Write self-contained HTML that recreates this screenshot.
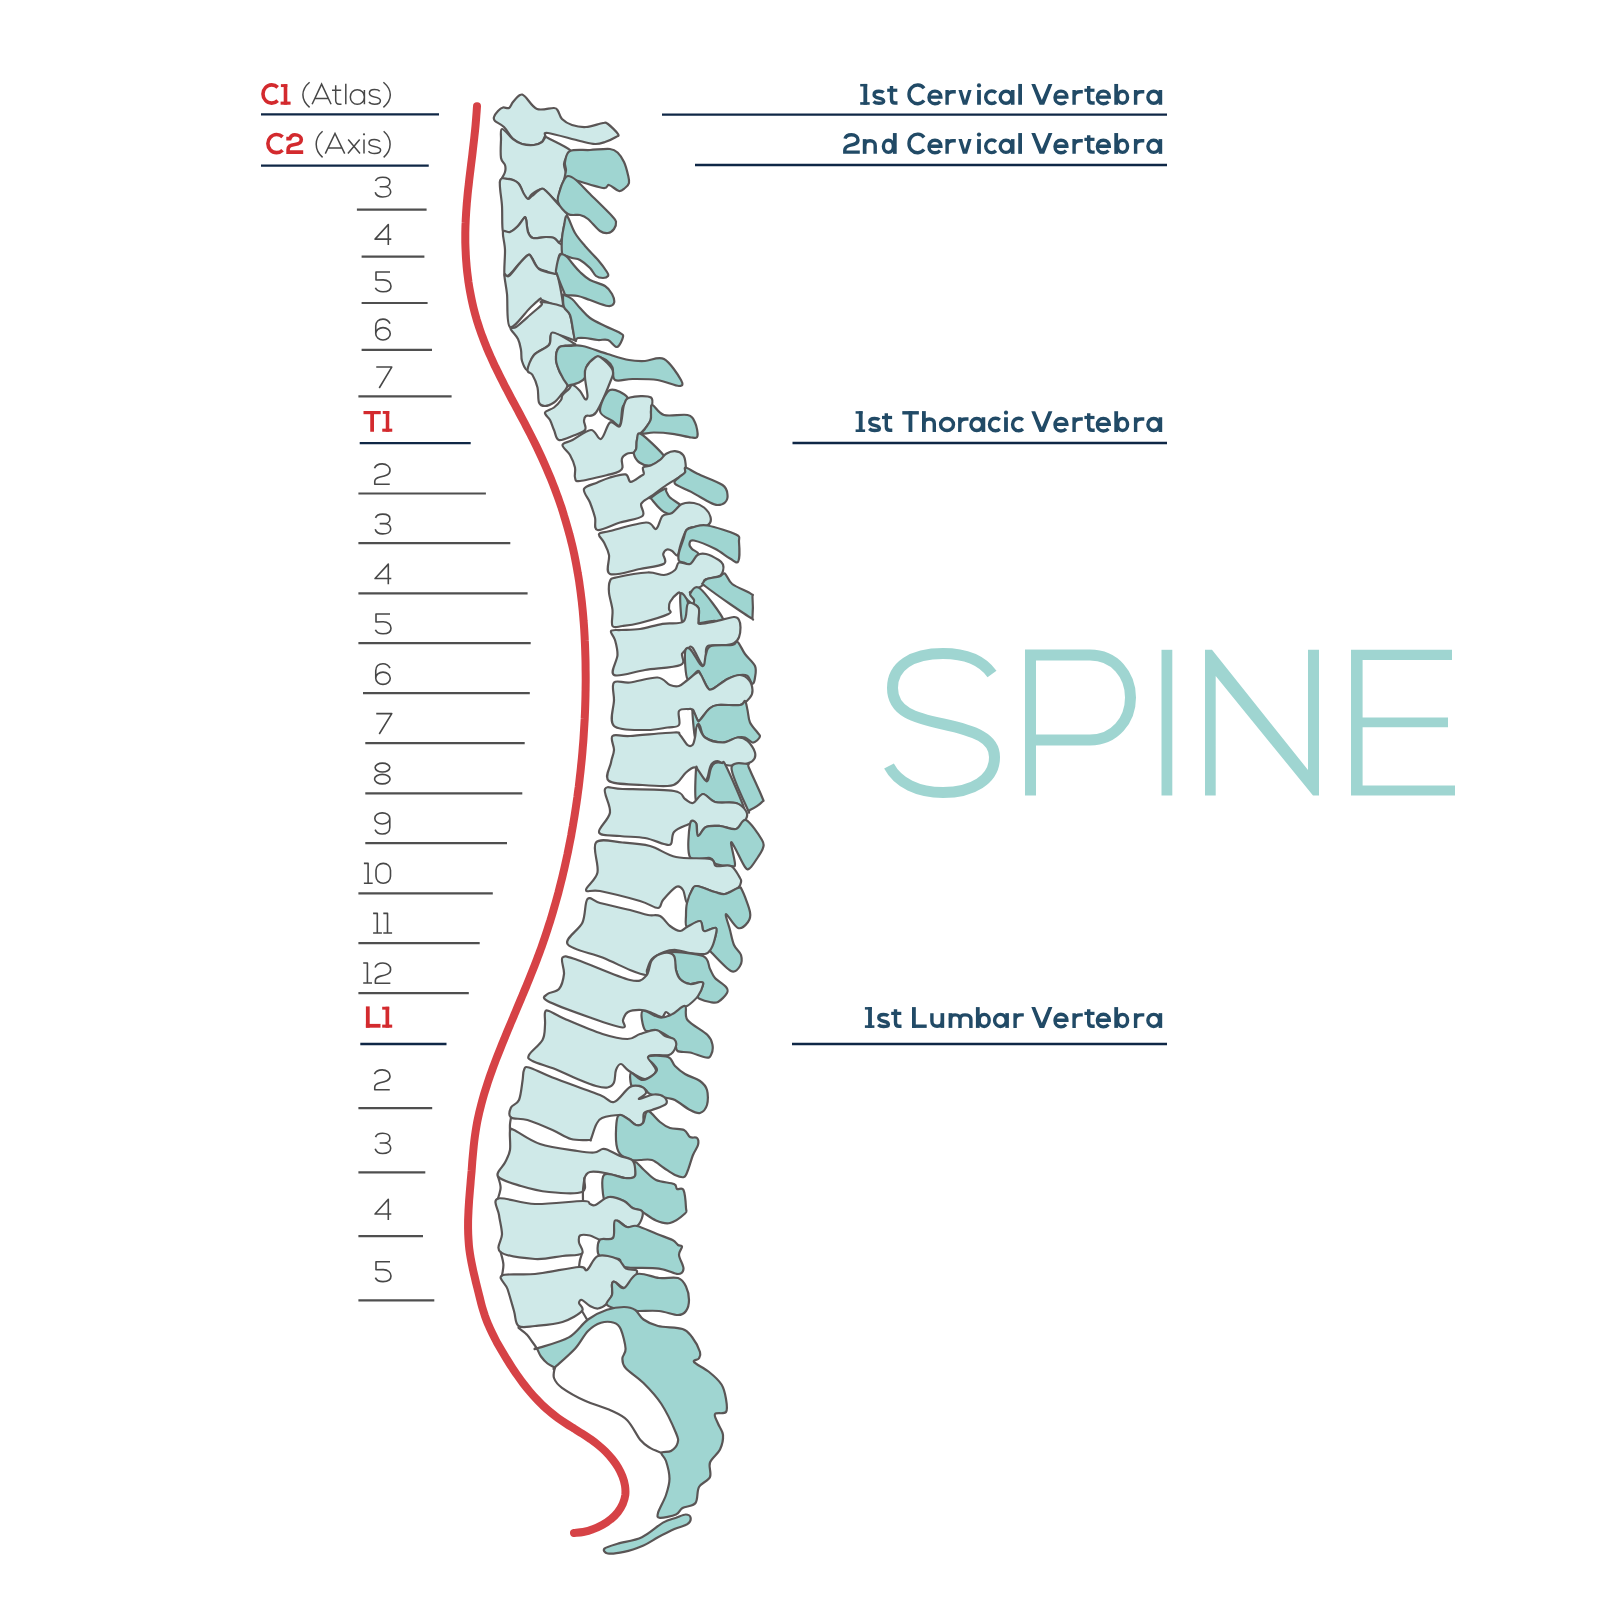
<!DOCTYPE html>
<html><head><meta charset="utf-8"><style>
html,body{margin:0;padding:0;background:#fff;width:1600px;height:1600px;overflow:hidden}
svg{display:block;font-family:"Liberation Sans",sans-serif}
</style></head><body>
<svg width="1600" height="1600" viewBox="0 0 1600 1600">
<path d="M 494.0 117.0 C 494.5 115.3 496.5 112.6 498.0 111.0 C 499.5 109.4 501.2 108.0 503.0 107.5 C 504.8 107.0 507.3 108.9 509.0 108.0 C 510.7 107.1 511.2 104.2 513.0 102.0 C 514.8 99.8 518.0 95.9 520.0 95.0 C 522.0 94.1 522.2 94.2 525.0 96.5 C 527.8 98.8 532.2 107.1 537.0 109.0 C 541.8 110.9 550.5 107.7 554.0 108.0 C 557.5 108.3 556.7 109.2 558.0 111.0 C 559.3 112.8 559.7 116.7 562.0 119.0 C 564.3 121.3 568.0 123.7 572.0 125.0 C 576.0 126.3 580.8 127.3 586.0 127.0 C 591.2 126.7 599.3 123.5 603.0 123.0 C 606.7 122.5 605.5 122.2 608.0 124.0 C 610.5 125.8 616.7 131.8 618.0 134.0 C 619.3 136.2 618.2 135.7 616.0 137.0 C 613.8 138.3 608.5 140.8 605.0 142.0 C 601.5 143.2 599.2 144.2 595.0 144.0 C 590.8 143.8 587.8 142.8 580.0 141.0 C 572.2 139.2 553.8 133.8 548.0 133.0 C 542.2 132.2 546.0 134.5 545.0 136.0 C 544.0 137.5 543.8 140.5 542.0 142.0 C 540.2 143.5 537.3 144.7 534.0 145.0 C 530.7 145.3 525.5 145.0 522.0 144.0 C 518.5 143.0 516.0 141.8 513.0 139.0 C 510.0 136.2 507.0 130.0 504.0 127.0 C 501.0 124.0 496.7 122.7 495.0 121.0 C 493.3 119.3 493.5 118.7 494.0 117.0 Z" fill="#cfe9e8" stroke="#5a5555" stroke-width="2.2" stroke-linejoin="round"/>
<path d="M 502.0 129.0 C 504.0 128.8 509.7 136.5 513.0 139.0 C 516.3 141.5 518.5 143.0 522.0 144.0 C 525.5 145.0 530.7 145.3 534.0 145.0 C 537.3 144.7 540.1 143.3 542.0 142.0 C 543.9 140.7 544.5 137.7 545.5 137.0 C 546.5 136.3 543.9 135.8 548.0 138.0 C 552.1 140.2 566.8 147.0 570.0 150.0 C 573.2 153.0 568.0 153.7 567.0 156.0 C 566.0 158.3 564.2 161.0 564.0 164.0 C 563.8 167.0 566.0 171.3 566.0 174.0 C 566.0 176.7 565.0 177.3 564.0 180.0 C 563.0 182.7 561.0 186.3 560.0 190.0 C 559.0 193.7 560.3 201.8 558.0 202.0 C 555.7 202.2 548.8 193.2 546.0 191.0 C 543.2 188.8 543.3 188.5 541.0 189.0 C 538.7 189.5 534.2 192.3 532.0 194.0 C 529.8 195.7 529.3 198.8 528.0 199.0 C 526.7 199.2 525.5 197.5 524.0 195.0 C 522.5 192.5 521.3 186.7 519.0 184.0 C 516.7 181.3 512.7 179.5 510.0 179.0 C 507.3 178.5 504.7 180.5 503.0 181.0 C 501.3 181.5 499.7 183.5 500.0 182.0 C 500.3 180.5 504.2 174.8 505.0 172.0 C 505.8 169.2 505.7 167.3 505.0 165.0 C 504.3 162.7 501.7 162.2 501.0 158.0 C 500.3 153.8 500.8 144.8 501.0 140.0 C 501.2 135.2 500.0 129.2 502.0 129.0 Z" fill="#cfe9e8" stroke="#5a5555" stroke-width="2.2" stroke-linejoin="round"/>
<path d="M 570.0 151.0 C 574.2 149.0 583.3 150.3 590.0 150.0 C 596.7 149.7 605.3 148.5 610.0 149.0 C 614.7 149.5 615.7 150.8 618.0 153.0 C 620.3 155.2 622.3 158.3 624.0 162.0 C 625.7 165.7 627.2 171.5 628.0 175.0 C 628.8 178.5 629.5 180.8 629.0 183.0 C 628.5 185.2 626.7 186.7 625.0 188.0 C 623.3 189.3 621.7 191.5 619.0 191.0 C 616.3 190.5 611.7 185.5 609.0 185.0 C 606.3 184.5 608.7 188.8 603.0 188.0 C 597.3 187.2 580.8 181.8 575.0 180.0 C 569.2 178.2 569.8 177.2 568.0 177.0 C 566.2 176.8 564.8 180.2 564.5 179.0 C 564.2 177.8 565.9 172.8 566.0 170.0 C 566.1 167.2 564.3 165.2 565.0 162.0 C 565.7 158.8 565.8 153.0 570.0 151.0 Z" fill="#9fd5d1" stroke="#5a5555" stroke-width="2.2" stroke-linejoin="round"/>
<path d="M 500.0 181.0 C 501.0 176.5 505.0 178.7 508.0 179.0 C 511.0 179.3 515.3 180.5 518.0 183.0 C 520.7 185.5 522.3 191.3 524.0 194.0 C 525.7 196.7 526.7 198.7 528.0 199.0 C 529.3 199.3 529.8 197.7 532.0 196.0 C 534.2 194.3 538.7 189.8 541.0 189.0 C 543.3 188.2 543.2 188.5 546.0 191.0 C 548.8 193.5 554.5 200.2 558.0 204.0 C 561.5 207.8 566.0 210.3 567.0 214.0 C 568.0 217.7 564.8 222.0 564.0 226.0 C 563.2 230.0 562.8 235.3 562.0 238.0 C 561.2 240.7 560.3 242.0 559.0 242.0 C 557.7 242.0 556.2 238.8 554.0 238.0 C 551.8 237.2 549.5 237.0 546.0 237.0 C 542.5 237.0 536.0 238.8 533.0 238.0 C 530.0 237.2 529.2 235.2 528.0 232.0 C 526.8 228.8 526.7 221.3 526.0 219.0 C 525.3 216.7 525.3 216.8 524.0 218.0 C 522.7 219.2 520.3 223.7 518.0 226.0 C 515.7 228.3 512.5 231.0 510.0 232.0 C 507.5 233.0 504.3 236.3 503.0 232.0 C 501.7 227.7 502.5 214.5 502.0 206.0 C 501.5 197.5 499.0 185.5 500.0 181.0 Z" fill="#cfe9e8" stroke="#5a5555" stroke-width="2.2" stroke-linejoin="round"/>
<path d="M 568.0 176.0 C 570.0 176.0 572.3 177.0 576.0 180.0 C 579.7 183.0 584.0 188.0 590.0 194.0 C 596.0 200.0 607.7 211.3 612.0 216.0 C 616.3 220.7 615.7 219.8 616.0 222.0 C 616.3 224.2 615.3 227.2 614.0 229.0 C 612.7 230.8 610.3 232.7 608.0 233.0 C 605.7 233.3 603.3 233.3 600.0 231.0 C 596.7 228.7 591.3 221.7 588.0 219.0 C 584.7 216.3 583.3 215.8 580.0 215.0 C 576.7 214.2 571.7 216.2 568.0 214.0 C 564.3 211.8 559.3 206.0 558.0 202.0 C 556.7 198.0 559.0 193.7 560.0 190.0 C 561.0 186.3 562.7 182.3 564.0 180.0 C 565.3 177.7 566.0 176.0 568.0 176.0 Z" fill="#9fd5d1" stroke="#5a5555" stroke-width="2.2" stroke-linejoin="round"/>
<path d="M 503.0 232.0 C 503.8 229.0 507.5 233.0 510.0 232.0 C 512.5 231.0 515.7 228.3 518.0 226.0 C 520.3 223.7 522.7 219.2 524.0 218.0 C 525.3 216.8 525.3 216.7 526.0 219.0 C 526.7 221.3 526.8 228.8 528.0 232.0 C 529.2 235.2 530.0 237.2 533.0 238.0 C 536.0 238.8 542.5 237.0 546.0 237.0 C 549.5 237.0 551.8 237.0 554.0 238.0 C 556.2 239.0 557.5 241.7 559.0 243.0 C 560.5 244.3 562.5 244.3 563.0 246.0 C 563.5 247.7 562.7 251.3 562.0 253.0 C 561.3 254.7 560.0 252.4 559.0 256.0 C 558.0 259.6 558.2 272.0 556.0 274.5 C 553.8 277.0 549.0 272.1 546.0 271.0 C 543.0 269.9 540.3 270.2 538.0 268.0 C 535.7 265.8 533.7 260.2 532.0 258.0 C 530.3 255.8 530.3 253.8 528.0 255.0 C 525.7 256.2 521.0 261.8 518.0 265.0 C 515.0 268.2 512.2 272.3 510.0 274.0 C 507.8 275.7 505.3 279.0 504.5 275.0 C 503.7 271.0 505.2 257.2 505.0 250.0 C 504.8 242.8 502.2 235.0 503.0 232.0 Z" fill="#cfe9e8" stroke="#5a5555" stroke-width="2.2" stroke-linejoin="round"/>
<path d="M 567.0 216.0 C 568.8 217.2 572.0 228.0 575.0 233.0 C 578.0 238.0 581.2 241.5 585.0 246.0 C 588.8 250.5 594.3 255.7 598.0 260.0 C 601.7 264.3 605.3 269.3 607.0 272.0 C 608.7 274.7 608.7 275.0 608.0 276.0 C 607.3 277.0 605.0 278.0 603.0 278.0 C 601.0 278.0 598.2 277.7 596.0 276.0 C 593.8 274.3 592.7 270.7 590.0 268.0 C 587.3 265.3 583.0 261.7 580.0 260.0 C 577.0 258.3 574.7 258.8 572.0 258.0 C 569.3 257.2 565.7 255.8 564.0 255.0 C 562.3 254.2 562.3 255.8 562.0 253.0 C 561.7 250.2 561.7 242.5 562.0 238.0 C 562.3 233.5 563.2 229.7 564.0 226.0 C 564.8 222.3 565.2 214.8 567.0 216.0 Z" fill="#9fd5d1" stroke="#5a5555" stroke-width="2.2" stroke-linejoin="round"/>
<path d="M 504.5 275.0 C 504.8 272.0 506.4 278.0 509.0 276.0 C 511.6 274.0 516.8 266.5 520.0 263.0 C 523.2 259.5 526.2 256.1 528.0 255.0 C 529.8 253.9 529.2 254.2 531.0 256.5 C 532.8 258.8 534.8 266.1 539.0 269.0 C 543.2 271.9 553.0 273.2 556.0 274.0 C 559.0 274.8 556.3 272.0 557.0 274.0 C 557.7 276.0 559.0 280.7 560.0 286.0 C 561.0 291.3 563.3 302.7 563.0 306.0 C 562.7 309.3 561.5 307.0 558.0 306.0 C 554.5 305.0 545.0 301.2 542.0 300.0 C 539.0 298.8 542.0 297.7 540.0 299.0 C 538.0 300.3 535.0 303.3 530.0 308.0 C 525.0 312.7 513.8 329.3 510.0 327.0 C 506.2 324.7 507.9 302.7 507.0 294.0 C 506.1 285.3 504.2 278.0 504.5 275.0 Z" fill="#cfe9e8" stroke="#5a5555" stroke-width="2.2" stroke-linejoin="round"/>
<path d="M 560.0 255.0 C 561.7 252.7 564.0 254.7 566.0 256.0 C 568.0 257.3 569.7 260.3 572.0 263.0 C 574.3 265.7 577.0 269.2 580.0 272.0 C 583.0 274.8 585.8 277.7 590.0 280.0 C 594.2 282.3 601.3 283.7 605.0 286.0 C 608.7 288.3 610.5 291.2 612.0 294.0 C 613.5 296.8 614.7 301.0 614.0 303.0 C 613.3 305.0 612.0 306.5 608.0 306.0 C 604.0 305.5 595.0 301.7 590.0 300.0 C 585.0 298.3 582.0 296.8 578.0 296.0 C 574.0 295.2 568.3 295.7 566.0 295.0 C 563.7 294.3 564.8 293.7 564.0 292.0 C 563.2 290.3 562.2 288.0 561.0 285.0 C 559.8 282.0 557.8 276.5 557.0 274.0 C 556.2 271.5 555.5 273.2 556.0 270.0 C 556.5 266.8 558.3 257.3 560.0 255.0 Z" fill="#9fd5d1" stroke="#5a5555" stroke-width="2.2" stroke-linejoin="round"/>
<path d="M 510.5 328.5 C 510.8 330.5 516.2 335.4 518.0 339.0 C 519.8 342.6 520.3 346.3 521.0 350.0 C 521.7 353.7 520.9 357.7 522.0 361.0 C 523.1 364.3 525.5 371.0 527.5 370.0 C 529.5 369.0 530.4 359.2 534.0 355.0 C 537.6 350.8 545.9 348.5 549.0 345.0 C 552.1 341.5 548.3 334.8 552.5 334.0 C 556.7 333.2 570.2 339.0 574.0 340.0 C 577.8 341.0 575.2 341.7 575.0 340.0 C 574.8 338.3 573.8 334.2 573.0 330.0 C 572.2 325.8 571.5 318.8 570.0 315.0 C 568.5 311.2 568.7 309.2 564.0 307.0 C 559.3 304.8 545.8 302.3 542.0 302.0 C 538.2 301.7 543.5 302.8 541.5 305.0 C 539.5 307.2 534.2 311.3 530.0 315.0 C 525.8 318.7 519.2 324.8 516.0 327.0 C 512.8 329.2 510.2 326.5 510.5 328.5 Z" fill="#cfe9e8" stroke="#5a5555" stroke-width="2.2" stroke-linejoin="round"/>
<path d="M 564.0 295.0 C 565.5 295.5 569.3 296.8 572.0 299.0 C 574.7 301.2 577.0 304.8 580.0 308.0 C 583.0 311.2 585.8 315.0 590.0 318.0 C 594.2 321.0 600.0 323.5 605.0 326.0 C 610.0 328.5 617.0 331.2 620.0 333.0 C 623.0 334.8 623.5 334.7 623.0 337.0 C 622.5 339.3 619.5 346.5 617.0 347.0 C 614.5 347.5 611.2 341.2 608.0 340.0 C 604.8 338.8 601.8 340.3 598.0 340.0 C 594.2 339.7 588.3 338.3 585.0 338.0 C 581.7 337.7 579.7 337.7 578.0 338.0 C 576.3 338.3 575.8 341.3 575.0 340.0 C 574.2 338.7 573.8 334.2 573.0 330.0 C 572.2 325.8 571.5 318.8 570.0 315.0 C 568.5 311.2 565.2 310.2 564.0 307.0 C 562.8 303.8 563.0 298.0 563.0 296.0 C 563.0 294.0 562.5 294.5 564.0 295.0 Z" fill="#9fd5d1" stroke="#5a5555" stroke-width="2.2" stroke-linejoin="round"/>
<path d="M 552.5 332.5 C 556.4 332.1 568.9 340.4 572.5 342.5 C 576.1 344.6 576.2 344.2 574.0 345.0 C 571.8 345.8 562.0 345.0 559.0 347.5 C 556.0 350.0 555.8 355.8 556.0 360.0 C 556.2 364.2 558.1 368.3 560.0 372.5 C 561.9 376.7 567.3 381.2 567.5 385.0 C 567.7 388.8 563.2 392.1 561.0 395.0 C 558.8 397.9 556.7 400.7 554.0 402.5 C 551.3 404.3 547.5 406.0 545.0 406.0 C 542.5 406.0 540.2 405.6 539.0 402.5 C 537.8 399.4 538.6 392.1 537.5 387.5 C 536.4 382.9 534.2 377.9 532.5 375.0 C 530.8 372.1 527.2 373.3 527.5 370.0 C 527.8 366.7 530.4 359.2 534.0 355.0 C 537.6 350.8 545.9 348.8 549.0 345.0 C 552.1 341.2 548.6 332.9 552.5 332.5 Z" fill="#cfe9e8" stroke="#5a5555" stroke-width="2.2" stroke-linejoin="round"/>
<path d="M 559.0 347.5 C 561.3 345.2 566.1 346.2 570.0 346.0 C 573.9 345.8 576.2 344.7 582.5 346.0 C 588.8 347.3 599.8 351.7 607.5 354.0 C 615.2 356.3 622.8 358.8 629.0 360.0 C 635.2 361.2 639.2 361.2 645.0 361.0 C 650.8 360.8 658.0 355.8 664.0 359.0 C 670.0 362.2 678.5 375.5 681.0 380.0 C 683.5 384.5 682.9 386.0 679.0 386.0 C 675.1 386.0 665.2 381.2 657.5 380.0 C 649.8 378.8 639.6 379.0 632.5 379.0 C 625.4 379.0 618.3 381.9 615.0 380.0 C 611.7 378.1 614.0 370.8 612.5 367.5 C 611.0 364.2 608.5 361.7 606.0 360.0 C 603.5 358.3 600.6 356.7 597.5 357.5 C 594.4 358.3 589.6 361.7 587.5 365.0 C 585.4 368.3 586.4 374.6 585.0 377.5 C 583.6 380.4 581.5 381.2 579.0 382.5 C 576.5 383.8 571.9 384.6 570.0 385.0 C 568.1 385.4 569.2 387.1 567.5 385.0 C 565.8 382.9 561.9 376.7 560.0 372.5 C 558.1 368.3 556.2 364.2 556.0 360.0 C 555.8 355.8 556.7 349.8 559.0 347.5 Z" fill="#9fd5d1" stroke="#5a5555" stroke-width="2.2" stroke-linejoin="round"/>
<path d="M 545.0 412.5 C 544.3 414.6 548.5 417.1 550.0 420.0 C 551.5 422.9 552.5 426.7 554.0 430.0 C 555.5 433.3 555.7 439.0 558.8 440.0 C 561.8 441.0 568.1 437.7 572.5 436.0 C 576.9 434.3 583.1 432.5 585.0 430.0 C 586.9 427.5 583.8 423.3 584.0 421.0 C 584.2 418.7 584.0 417.4 586.0 416.0 C 588.0 414.6 592.0 418.1 596.0 412.5 C 600.0 406.9 607.2 389.6 610.0 382.5 C 612.8 375.4 614.0 374.2 612.5 370.0 C 611.0 365.8 603.9 359.6 601.0 357.5 C 598.1 355.4 597.5 355.8 595.0 357.5 C 592.5 359.2 587.7 364.2 586.0 367.5 C 584.3 370.8 584.8 372.8 585.0 377.5 C 585.2 382.2 587.5 392.4 587.5 396.0 C 587.5 399.6 586.2 399.8 585.0 399.0 C 583.8 398.2 582.1 393.3 580.0 391.0 C 577.9 388.7 574.3 385.3 572.5 385.0 C 570.7 384.7 570.7 387.3 569.0 389.0 C 567.3 390.7 563.8 393.2 562.5 395.0 C 561.2 396.8 562.4 397.9 561.0 400.0 C 559.6 402.1 556.7 405.4 554.0 407.5 C 551.3 409.6 545.7 410.4 545.0 412.5 Z" fill="#cfe9e8" stroke="#5a5555" stroke-width="2.2" stroke-linejoin="round"/>
<path d="M 600.0 411.0 C 599.6 405.8 605.4 392.2 610.0 390.0 C 614.6 387.8 625.4 394.6 627.5 397.5 C 629.6 400.4 623.8 402.9 622.5 407.5 C 621.2 412.1 621.7 422.8 620.0 425.0 C 618.3 427.2 615.8 423.3 612.5 421.0 C 609.2 418.7 600.4 416.2 600.0 411.0 Z" fill="#9fd5d1" stroke="#5a5555" stroke-width="2.2" stroke-linejoin="round"/>
<path d="M 562.5 445.0 C 562.9 442.5 567.8 442.5 572.5 440.0 C 577.2 437.5 586.2 430.2 591.0 430.0 C 595.8 429.8 597.8 440.2 601.0 439.0 C 604.2 437.8 606.8 424.7 610.0 422.5 C 613.2 420.3 617.7 428.9 620.0 426.0 C 622.3 423.1 622.3 409.8 624.0 405.0 C 625.7 400.2 625.5 398.8 630.0 397.5 C 634.5 396.2 647.5 395.2 651.0 397.5 C 654.5 399.8 651.1 407.2 651.0 411.0 C 650.9 414.8 651.6 417.0 650.6 420.0 C 649.6 423.0 646.9 426.4 645.0 428.8 C 643.1 431.1 640.8 432.5 639.4 434.4 C 638.0 436.3 637.4 437.6 636.9 440.0 C 636.4 442.4 636.8 446.7 636.2 448.8 C 635.7 450.8 635.3 451.7 633.8 452.5 C 632.2 453.3 628.9 452.7 626.9 453.8 C 624.9 454.8 622.6 456.5 621.9 458.8 C 621.2 461.0 622.9 465.4 622.5 467.5 C 622.1 469.6 621.5 470.1 619.4 471.2 C 617.3 472.4 616.6 472.8 610.0 474.4 C 603.4 476.0 585.8 480.5 580.0 481.0 C 574.2 481.5 575.8 479.8 575.0 477.5 C 574.2 475.2 575.8 471.2 575.0 467.5 C 574.2 463.8 572.1 458.8 570.0 455.0 C 567.9 451.2 562.1 447.5 562.5 445.0 Z" fill="#cfe9e8" stroke="#5a5555" stroke-width="2.2" stroke-linejoin="round"/>
<path d="M 652.5 405.0 C 654.7 405.7 658.2 413.3 664.0 415.0 C 669.8 416.7 682.3 413.8 687.5 415.0 C 692.7 416.2 693.3 419.0 695.0 422.5 C 696.7 426.0 698.1 433.5 697.5 436.0 C 696.9 438.5 695.4 437.9 691.2 437.5 C 687.1 437.1 678.8 434.6 672.5 433.8 C 666.2 432.9 658.9 432.5 653.8 432.5 C 648.6 432.5 643.4 434.4 641.9 433.8 C 640.4 433.1 643.5 431.0 645.0 428.8 C 646.5 426.5 649.6 423.0 650.6 420.0 C 651.6 417.0 650.7 413.5 651.0 411.0 C 651.3 408.5 650.3 404.3 652.5 405.0 Z" fill="#9fd5d1" stroke="#5a5555" stroke-width="2.2" stroke-linejoin="round"/>
<path d="M 641.0 434.0 C 645.5 436.6 660.6 451.3 663.8 455.6 C 666.9 459.9 662.2 458.3 660.0 460.0 C 657.8 461.7 654.0 465.2 650.6 465.6 C 647.2 466.0 642.2 464.5 639.4 462.5 C 636.6 460.5 634.3 456.0 633.8 453.8 C 633.2 451.5 635.7 451.0 636.2 448.8 C 636.8 446.5 636.1 442.5 636.9 440.0 C 637.7 437.5 636.5 431.4 641.0 434.0 Z" fill="#9fd5d1" stroke="#5a5555" stroke-width="2.2" stroke-linejoin="round"/>
<path d="M 584.0 489.0 C 585.2 485.7 593.2 484.4 597.5 482.5 C 601.8 480.6 605.3 478.9 610.0 477.5 C 614.7 476.1 622.2 473.7 625.6 474.4 C 629.0 475.1 628.1 481.6 630.6 481.9 C 633.1 482.2 638.4 477.6 640.6 476.2 C 642.8 474.9 643.3 475.2 643.8 473.8 C 644.2 472.3 642.0 468.9 643.1 467.5 C 644.2 466.1 647.8 466.9 650.6 465.6 C 653.4 464.4 657.4 462.0 660.0 460.0 C 662.6 458.0 663.8 455.2 666.2 453.8 C 668.8 452.3 672.2 451.0 675.0 451.2 C 677.8 451.5 681.3 452.9 683.1 455.0 C 684.9 457.1 685.3 460.8 685.6 463.8 C 685.9 466.7 686.1 470.2 685.0 472.5 C 683.9 474.8 681.7 475.5 678.8 477.5 C 675.8 479.5 672.1 481.3 667.5 484.4 C 662.9 487.5 655.6 493.0 651.2 496.2 C 646.9 499.5 642.7 500.5 641.2 503.8 C 639.8 507.0 646.0 512.9 642.5 516.0 C 639.0 519.1 627.5 520.2 620.0 522.5 C 612.5 524.8 601.7 530.8 597.5 530.0 C 593.3 529.2 596.2 522.1 595.0 517.5 C 593.8 512.9 591.8 507.2 590.0 502.5 C 588.2 497.8 582.8 492.3 584.0 489.0 Z" fill="#cfe9e8" stroke="#5a5555" stroke-width="2.2" stroke-linejoin="round"/>
<path d="M 685.6 467.5 C 687.7 467.7 691.4 470.8 697.5 473.8 C 703.6 476.7 717.5 481.5 722.5 485.0 C 727.5 488.5 727.1 492.1 727.5 495.0 C 727.9 497.9 726.7 500.8 725.0 502.5 C 723.3 504.2 720.0 505.0 717.5 505.0 C 715.0 505.0 714.4 504.7 710.0 502.5 C 705.6 500.3 697.1 495.0 691.2 491.9 C 685.4 488.8 677.1 486.1 675.0 483.8 C 672.9 481.4 677.1 479.4 678.8 477.5 C 680.4 475.6 683.9 474.2 685.0 472.5 C 686.1 470.8 683.5 467.3 685.6 467.5 Z" fill="#9fd5d1" stroke="#5a5555" stroke-width="2.2" stroke-linejoin="round"/>
<path d="M 651.2 497.5 C 653.5 495.8 662.5 489.8 665.0 488.8 C 667.5 487.7 665.4 489.8 666.2 491.2 C 667.1 492.7 667.2 494.8 670.0 497.5 C 672.8 500.2 681.9 504.8 683.1 507.5 C 684.4 510.2 680.7 513.0 677.5 513.8 C 674.3 514.5 668.1 514.4 663.8 511.9 C 659.4 509.4 653.3 501.1 651.2 498.8 C 649.2 496.4 649.0 499.2 651.2 497.5 Z" fill="#9fd5d1" stroke="#5a5555" stroke-width="2.2" stroke-linejoin="round"/>
<path d="M 599.0 534.0 C 600.0 532.1 602.2 532.9 610.0 531.0 C 617.8 529.1 638.3 522.8 646.0 522.5 C 653.7 522.2 653.2 530.1 656.0 529.0 C 658.8 527.9 659.8 518.7 662.5 516.0 C 665.2 513.3 668.8 515.0 672.0 513.0 C 675.2 511.0 678.3 505.7 682.0 504.0 C 685.7 502.3 690.3 502.4 694.0 503.0 C 697.7 503.6 701.2 505.2 704.0 507.5 C 706.8 509.8 709.8 514.1 710.5 517.0 C 711.2 519.9 710.8 523.3 708.0 525.0 C 705.2 526.7 697.6 526.2 694.0 527.0 C 690.4 527.8 688.8 527.0 686.5 530.0 C 684.2 533.0 682.0 540.8 680.5 545.0 C 679.0 549.2 678.9 554.5 677.5 555.5 C 676.1 556.5 674.0 552.0 672.2 551.0 C 670.5 550.0 668.5 549.0 667.0 549.5 C 665.5 550.0 663.8 551.6 663.2 554.0 C 662.8 556.4 667.9 561.2 664.0 563.8 C 660.1 566.2 649.0 567.3 640.0 569.0 C 631.0 570.7 615.2 576.3 610.0 574.0 C 604.8 571.7 610.0 560.2 609.0 555.0 C 608.0 549.8 605.7 546.0 604.0 542.5 C 602.3 539.0 598.0 535.9 599.0 534.0 Z" fill="#cfe9e8" stroke="#5a5555" stroke-width="2.2" stroke-linejoin="round"/>
<path d="M 707.5 525.5 C 714.5 526.8 730.8 531.8 736.0 534.5 C 741.2 537.2 738.6 537.5 739.0 542.0 C 739.4 546.5 739.8 558.8 738.2 561.5 C 736.8 564.2 733.9 560.6 730.0 558.5 C 726.1 556.4 721.0 551.8 715.0 548.8 C 709.0 545.8 698.2 541.4 694.0 540.5 C 689.8 539.6 689.9 542.1 689.5 543.5 C 689.1 544.9 690.2 547.0 691.8 548.8 C 693.2 550.5 697.9 551.5 698.5 554.0 C 699.1 556.5 696.5 561.8 695.5 563.8 C 694.5 565.8 694.2 566.1 692.5 566.0 C 690.8 565.9 687.2 563.9 685.0 563.0 C 682.8 562.1 680.0 562.5 679.0 560.8 C 678.0 559.0 678.2 556.1 679.0 552.5 C 679.8 548.9 682.2 542.8 683.5 539.0 C 684.8 535.2 684.8 532.0 686.5 530.0 C 688.2 528.0 690.5 527.8 694.0 527.0 C 697.5 526.2 700.5 524.2 707.5 525.5 Z" fill="#9fd5d1" stroke="#5a5555" stroke-width="2.2" stroke-linejoin="round"/>
<path d="M 610.0 581.0 C 611.2 578.5 609.8 578.9 616.0 577.5 C 622.2 576.1 639.5 572.9 647.5 572.5 C 655.5 572.1 659.4 575.4 664.0 575.0 C 668.6 574.6 672.5 572.1 675.0 570.0 C 677.5 567.9 676.5 563.5 679.0 562.5 C 681.5 561.5 686.9 565.2 690.0 564.0 C 693.1 562.8 694.8 556.7 697.5 555.0 C 700.2 553.3 702.5 553.2 706.0 554.0 C 709.5 554.8 715.9 558.2 718.8 560.0 C 721.6 561.8 722.3 562.7 723.0 564.5 C 723.7 566.3 723.5 569.1 723.0 571.0 C 722.5 572.9 722.0 574.6 720.0 575.8 C 718.0 576.9 713.6 577.3 711.0 578.0 C 708.4 578.7 705.8 578.8 704.5 580.0 C 703.2 581.2 705.1 583.1 703.0 585.0 C 700.9 586.9 693.9 590.2 691.8 591.5 C 689.6 592.8 689.6 591.6 690.0 593.0 C 690.4 594.4 693.6 597.9 694.0 599.8 C 694.4 601.6 694.7 605.0 692.5 604.0 C 690.3 603.0 683.4 595.8 681.0 594.0 C 678.6 592.2 679.8 591.7 678.0 593.0 C 676.2 594.3 671.5 599.3 670.0 602.0 C 668.5 604.7 669.2 607.0 669.0 609.0 C 668.8 611.0 673.3 611.7 668.5 614.0 C 663.7 616.3 647.7 621.0 640.0 623.0 C 632.3 625.0 627.1 625.5 622.5 626.0 C 617.9 626.5 614.2 628.7 612.5 626.0 C 610.8 623.3 613.1 615.6 612.5 610.0 C 611.9 604.4 609.4 597.3 609.0 592.5 C 608.6 587.7 608.8 583.5 610.0 581.0 Z" fill="#cfe9e8" stroke="#5a5555" stroke-width="2.2" stroke-linejoin="round"/>
<path d="M 703.0 583.0 C 703.4 581.8 704.8 579.8 707.5 578.8 C 710.2 577.7 716.6 577.4 719.5 576.5 C 722.4 575.6 722.6 572.2 724.8 573.5 C 726.9 574.8 727.9 580.6 732.2 584.0 C 736.6 587.4 747.6 591.5 751.0 593.8 C 754.4 596.0 752.2 593.6 752.5 597.5 C 752.8 601.4 752.8 613.6 752.5 617.0 C 752.2 620.4 754.8 620.2 751.0 618.0 C 747.2 615.8 737.7 609.3 730.0 604.0 C 722.3 598.7 709.5 589.5 705.0 586.0 C 700.5 582.5 702.6 584.2 703.0 583.0 Z" fill="#9fd5d1" stroke="#5a5555" stroke-width="2.2" stroke-linejoin="round"/>
<path d="M 690.2 593.8 C 691.2 591.9 694.5 584.2 700.0 588.5 C 705.5 592.8 721.0 613.9 723.2 619.2 C 725.5 624.6 717.4 620.1 713.5 620.8 C 709.6 621.4 702.5 623.1 700.0 623.0 C 697.5 622.9 698.8 622.5 698.5 620.0 C 698.2 617.5 699.2 610.7 698.5 608.0 C 697.8 605.3 694.8 605.4 694.0 604.0 C 693.2 602.6 694.6 601.5 694.0 599.8 C 693.4 598.0 689.2 595.6 690.2 593.8 Z" fill="#9fd5d1" stroke="#5a5555" stroke-width="2.2" stroke-linejoin="round"/>
<path d="M 680.5 593.8 C 681.5 590.6 687.0 598.1 688.0 602.8 C 689.0 607.4 687.5 618.4 686.5 621.5 C 685.5 624.6 683.0 626.1 682.0 621.5 C 681.0 616.9 679.5 596.9 680.5 593.8 Z" fill="#9fd5d1" stroke="#5a5555" stroke-width="2.2" stroke-linejoin="round"/>
<path d="M 611.0 631.0 C 612.0 629.3 616.2 630.3 621.0 630.0 C 625.8 629.7 633.1 630.0 640.0 629.0 C 646.9 628.0 655.2 625.0 662.5 623.8 C 669.8 622.5 679.2 624.9 683.5 621.5 C 687.8 618.1 685.5 605.8 688.0 603.5 C 690.5 601.2 696.8 605.2 698.5 608.0 C 700.2 610.8 698.2 617.4 698.5 620.0 C 698.8 622.6 697.2 623.5 700.0 623.8 C 702.8 624.0 709.4 622.6 715.0 621.5 C 720.6 620.4 729.8 617.2 733.8 617.0 C 737.8 616.8 737.9 618.2 739.0 620.0 C 740.1 621.8 740.5 624.6 740.5 627.5 C 740.5 630.4 740.1 634.6 739.0 637.2 C 737.9 639.9 736.5 641.9 733.8 643.2 C 731.0 644.6 726.6 645.1 722.5 645.5 C 718.4 645.9 711.8 644.8 709.0 645.5 C 706.2 646.2 706.5 647.4 706.0 650.0 C 705.5 652.6 706.6 658.8 706.0 661.2 C 705.4 663.8 704.5 667.2 702.2 665.0 C 700.0 662.8 694.9 650.5 692.5 647.8 C 690.1 645.0 689.8 647.5 688.0 648.5 C 686.2 649.5 683.2 651.0 682.0 653.8 C 680.8 656.5 686.7 662.3 680.5 665.0 C 674.3 667.7 656.1 668.3 645.0 670.0 C 633.9 671.7 618.6 677.5 614.0 675.0 C 609.4 672.5 617.3 660.8 617.5 655.0 C 617.7 649.2 616.1 644.0 615.0 640.0 C 613.9 636.0 610.0 632.7 611.0 631.0 Z" fill="#cfe9e8" stroke="#5a5555" stroke-width="2.2" stroke-linejoin="round"/>
<path d="M 685.0 652.5 C 685.4 647.5 687.5 647.1 690.0 649.0 C 692.5 650.9 697.7 661.3 700.0 664.0 C 702.3 666.7 703.0 666.7 704.0 665.0 C 705.0 663.3 704.8 657.2 706.0 654.0 C 707.2 650.8 706.6 647.5 711.0 646.0 C 715.4 644.5 728.1 645.7 732.5 645.0 C 736.9 644.3 735.4 640.2 737.5 641.8 C 739.6 643.2 742.1 650.0 745.0 654.0 C 747.9 658.0 753.3 662.1 755.0 666.0 C 756.7 669.9 755.4 674.5 755.0 677.5 C 754.6 680.5 753.8 684.2 752.5 684.0 C 751.2 683.8 749.6 677.5 747.5 676.0 C 745.4 674.5 743.3 674.5 740.0 675.0 C 736.7 675.5 732.1 676.7 727.5 679.0 C 722.9 681.3 715.8 687.6 712.5 689.0 C 709.2 690.4 709.4 689.8 707.5 687.5 C 705.6 685.2 702.7 677.8 701.0 675.0 C 699.3 672.2 699.8 670.3 697.5 671.0 C 695.2 671.7 689.6 682.1 687.5 679.0 C 685.4 675.9 684.6 657.5 685.0 652.5 Z" fill="#9fd5d1" stroke="#5a5555" stroke-width="2.2" stroke-linejoin="round"/>
<path d="M 614.0 682.5 C 616.7 679.6 622.8 683.3 630.0 682.5 C 637.2 681.7 650.8 677.1 657.5 677.5 C 664.2 677.9 666.4 683.6 670.0 685.0 C 673.6 686.4 676.1 686.8 679.0 686.0 C 681.9 685.2 684.4 682.2 687.5 680.0 C 690.6 677.8 695.2 673.3 697.5 672.5 C 699.8 671.7 699.3 672.5 701.0 675.0 C 702.7 677.5 705.6 685.2 707.5 687.5 C 709.4 689.8 709.2 690.4 712.5 689.0 C 715.8 687.6 722.9 681.3 727.5 679.0 C 732.1 676.7 736.4 674.8 740.0 675.0 C 743.6 675.2 746.9 677.5 749.0 680.0 C 751.1 682.5 752.3 687.1 752.5 690.0 C 752.7 692.9 752.1 695.0 750.0 697.5 C 747.9 700.0 745.4 703.8 740.0 705.0 C 734.6 706.2 722.7 704.3 717.5 705.0 C 712.3 705.7 711.9 706.5 709.0 709.0 C 706.1 711.5 701.9 718.2 700.0 720.0 C 698.1 721.8 698.8 721.7 697.5 720.0 C 696.2 718.3 693.9 711.8 692.5 710.0 C 691.1 708.2 691.2 708.8 689.0 709.0 C 686.8 709.2 680.7 708.3 679.0 711.0 C 677.3 713.7 680.9 722.2 679.0 725.0 C 677.1 727.8 673.0 726.7 667.5 727.5 C 662.0 728.3 654.9 730.2 646.0 730.0 C 637.1 729.8 619.3 731.0 614.0 726.0 C 608.7 721.0 614.0 707.2 614.0 700.0 C 614.0 692.8 611.3 685.4 614.0 682.5 Z" fill="#cfe9e8" stroke="#5a5555" stroke-width="2.2" stroke-linejoin="round"/>
<path d="M 740.0 705.0 C 744.6 704.3 743.8 700.2 745.0 701.0 C 746.2 701.8 746.7 706.4 747.5 710.0 C 748.3 713.6 748.3 718.8 750.0 722.5 C 751.7 726.2 755.8 730.2 757.5 732.5 C 759.2 734.8 760.0 734.8 760.0 736.0 C 760.0 737.2 758.8 738.9 757.5 740.0 C 756.2 741.1 754.6 742.9 752.5 742.5 C 750.4 742.1 747.5 738.3 745.0 737.5 C 742.5 736.7 741.2 736.7 737.5 737.5 C 733.8 738.3 727.9 742.5 722.5 742.5 C 717.1 742.5 708.8 740.2 705.0 737.5 C 701.2 734.8 701.2 728.1 700.0 726.0 C 698.8 723.9 698.3 723.1 697.5 725.0 C 696.7 726.9 695.8 740.0 695.0 737.5 C 694.2 735.0 692.1 712.9 692.5 710.0 C 692.9 707.1 696.2 718.3 697.5 720.0 C 698.8 721.7 698.1 721.8 700.0 720.0 C 701.9 718.2 706.1 711.5 709.0 709.0 C 711.9 706.5 712.3 705.7 717.5 705.0 C 722.7 704.3 735.4 705.7 740.0 705.0 Z" fill="#9fd5d1" stroke="#5a5555" stroke-width="2.2" stroke-linejoin="round"/>
<path d="M 612.5 736.0 C 615.2 733.7 619.8 736.6 630.0 736.0 C 640.2 735.4 665.7 732.7 674.0 732.5 C 682.3 732.3 677.8 732.9 680.0 735.0 C 682.2 737.1 685.4 743.3 687.5 745.0 C 689.6 746.7 691.2 746.2 692.5 745.0 C 693.8 743.8 694.2 740.8 695.0 737.5 C 695.8 734.2 695.8 725.0 697.5 725.0 C 699.2 725.0 700.8 734.6 705.0 737.5 C 709.2 740.4 717.1 742.5 722.5 742.5 C 727.9 742.5 733.3 737.8 737.5 737.5 C 741.7 737.2 744.6 738.5 747.5 741.0 C 750.4 743.5 754.2 749.2 755.0 752.5 C 755.8 755.8 755.0 758.9 752.5 761.0 C 750.0 763.1 744.4 764.3 740.0 765.0 C 735.6 765.7 729.8 765.7 726.0 765.0 C 722.2 764.3 720.0 761.0 717.5 761.0 C 715.0 761.0 712.7 762.2 711.0 765.0 C 709.3 767.8 708.5 775.0 707.5 777.5 C 706.5 780.0 706.2 780.4 705.0 780.0 C 703.8 779.6 701.7 777.1 700.0 775.0 C 698.3 772.9 697.3 767.9 695.0 767.5 C 692.7 767.1 688.9 770.0 686.0 772.5 C 683.1 775.0 680.6 780.2 677.5 782.5 C 674.4 784.8 673.3 785.6 667.5 786.0 C 661.7 786.4 652.2 785.8 642.5 785.0 C 632.8 784.2 614.2 784.8 609.0 781.0 C 603.8 777.2 610.2 767.7 611.0 762.5 C 611.8 757.3 613.8 754.4 614.0 750.0 C 614.2 745.6 609.8 738.3 612.5 736.0 Z" fill="#cfe9e8" stroke="#5a5555" stroke-width="2.2" stroke-linejoin="round"/>
<path d="M 748.0 764.0 C 750.9 764.0 746.7 762.5 749.0 768.0 C 751.3 773.5 759.8 791.3 762.0 797.0 C 764.2 802.7 764.0 799.8 762.0 802.0 C 760.0 804.2 752.4 808.8 750.0 810.0 C 747.6 811.2 750.6 816.0 747.5 809.0 C 744.4 802.0 731.4 775.5 731.5 768.0 C 731.6 760.5 745.1 764.0 748.0 764.0 Z" fill="#9fd5d1" stroke="#5a5555" stroke-width="2.2" stroke-linejoin="round"/>
<path d="M 696.0 769.0 C 696.3 763.8 696.5 768.2 698.0 770.0 C 699.5 771.8 703.3 778.3 705.0 780.0 C 706.7 781.7 707.0 782.0 708.0 780.0 C 709.0 778.0 709.8 770.8 711.0 768.0 C 712.2 765.2 713.2 763.8 715.0 763.0 C 716.8 762.2 720.2 762.5 722.0 763.0 C 723.8 763.5 722.3 758.5 726.0 766.0 C 729.7 773.5 742.3 801.8 744.0 808.0 C 745.7 814.2 740.8 804.0 736.0 803.0 C 731.2 802.0 720.5 803.5 715.0 802.0 C 709.5 800.5 706.2 794.2 703.0 794.0 C 699.8 793.8 697.2 805.2 696.0 801.0 C 694.8 796.8 695.7 774.2 696.0 769.0 Z" fill="#9fd5d1" stroke="#5a5555" stroke-width="2.2" stroke-linejoin="round"/>
<path d="M 605.0 789.0 C 607.1 785.1 611.0 788.7 622.5 789.0 C 634.0 789.3 663.6 789.3 674.0 791.0 C 684.4 792.7 681.8 797.0 685.0 799.0 C 688.2 801.0 690.0 803.8 693.0 803.0 C 696.0 802.2 699.3 794.2 703.0 794.0 C 706.7 793.8 709.5 800.5 715.0 802.0 C 720.5 803.5 730.8 801.5 736.0 803.0 C 741.2 804.5 744.3 808.3 746.0 811.0 C 747.7 813.7 747.7 816.0 746.0 819.0 C 744.3 822.0 740.3 827.8 736.0 829.0 C 731.7 830.2 725.0 826.3 720.0 826.0 C 715.0 825.7 709.7 825.3 706.0 827.0 C 702.3 828.7 699.7 836.7 698.0 836.0 C 696.3 835.3 697.8 824.8 696.0 823.0 C 694.2 821.2 690.7 823.5 687.0 825.0 C 683.3 826.5 676.7 828.8 674.0 832.0 C 671.3 835.2 672.7 842.0 671.0 844.0 C 669.3 846.0 668.3 845.0 664.0 844.0 C 659.7 843.0 652.3 839.3 645.0 838.0 C 637.7 836.7 627.7 836.9 620.0 836.0 C 612.3 835.1 600.7 836.4 599.0 832.5 C 597.3 828.6 609.0 819.8 610.0 812.5 C 611.0 805.2 602.9 792.9 605.0 789.0 Z" fill="#cfe9e8" stroke="#5a5555" stroke-width="2.2" stroke-linejoin="round"/>
<path d="M 690.0 824.0 C 691.0 818.3 694.7 821.0 696.0 823.0 C 697.3 825.0 696.3 835.3 698.0 836.0 C 699.7 836.7 702.3 828.7 706.0 827.0 C 709.7 825.3 715.0 825.7 720.0 826.0 C 725.0 826.3 731.7 830.0 736.0 829.0 C 740.3 828.0 741.7 818.2 746.0 820.0 C 750.3 821.8 759.2 835.3 762.0 840.0 C 764.8 844.7 763.7 845.2 763.0 848.0 C 762.3 850.8 760.2 853.7 758.0 857.0 C 755.8 860.3 752.2 866.3 750.0 868.0 C 747.8 869.7 747.5 870.3 745.0 867.0 C 742.5 863.7 737.3 852.0 735.0 848.0 C 732.7 844.0 731.0 840.3 731.0 843.0 C 731.0 845.7 735.0 860.2 735.0 864.0 C 735.0 867.8 734.2 866.0 731.0 866.0 C 727.8 866.0 719.5 865.3 716.0 864.0 C 712.5 862.7 714.3 859.2 710.0 858.0 C 705.7 856.8 693.3 862.7 690.0 857.0 C 686.7 851.3 689.0 829.7 690.0 824.0 Z" fill="#9fd5d1" stroke="#5a5555" stroke-width="2.2" stroke-linejoin="round"/>
<path d="M 596.0 842.5 C 600.2 837.5 613.5 841.9 622.5 842.5 C 631.5 843.1 641.1 843.6 650.0 846.0 C 658.9 848.4 666.0 854.8 676.0 857.0 C 686.0 859.2 703.3 857.5 710.0 859.0 C 716.7 860.5 712.5 864.8 716.0 866.0 C 719.5 867.2 727.0 864.0 731.0 866.0 C 735.0 868.0 738.3 875.3 740.0 878.0 C 741.7 880.7 741.3 880.3 741.0 882.0 C 740.7 883.7 740.7 886.0 738.0 888.0 C 735.3 890.0 728.8 893.3 725.0 894.0 C 721.2 894.7 719.7 893.3 715.0 892.0 C 710.3 890.7 700.8 886.3 697.0 886.0 C 693.2 885.7 693.7 887.2 692.0 890.0 C 690.3 892.8 688.5 903.0 687.0 903.0 C 685.5 903.0 684.8 892.7 683.0 890.0 C 681.2 887.3 679.3 885.3 676.0 887.0 C 672.7 888.7 666.0 896.5 663.0 900.0 C 660.0 903.5 661.8 907.8 658.0 908.0 C 654.2 908.2 649.7 903.8 640.0 901.0 C 630.3 898.2 609.0 892.8 600.0 891.0 C 591.0 889.2 586.4 893.1 586.0 890.0 C 585.6 886.9 595.8 880.4 597.5 872.5 C 599.2 864.6 591.8 847.5 596.0 842.5 Z" fill="#cfe9e8" stroke="#5a5555" stroke-width="2.2" stroke-linejoin="round"/>
<path d="M 687.0 903.0 C 688.0 898.8 690.3 892.8 692.0 890.0 C 693.7 887.2 693.2 885.7 697.0 886.0 C 700.8 886.3 710.3 890.7 715.0 892.0 C 719.7 893.3 721.2 894.7 725.0 894.0 C 728.8 893.3 735.2 888.7 738.0 888.0 C 740.8 887.3 740.0 886.0 742.0 890.0 C 744.0 894.0 749.0 906.7 750.0 912.0 C 751.0 917.3 750.0 919.3 748.0 922.0 C 746.0 924.7 741.7 929.3 738.0 928.0 C 734.3 926.7 727.3 913.7 726.0 914.0 C 724.7 914.3 728.7 924.8 730.0 930.0 C 731.3 935.2 732.2 940.8 734.0 945.0 C 735.8 949.2 740.0 951.5 741.0 955.0 C 742.0 958.5 741.7 963.3 740.0 966.0 C 738.3 968.7 735.8 973.3 731.0 971.0 C 726.2 968.7 714.5 955.7 711.0 952.0 C 707.5 948.3 709.3 951.3 710.0 949.0 C 710.7 946.7 714.0 941.5 715.0 938.0 C 716.0 934.5 717.5 929.2 716.0 928.0 C 714.5 926.8 708.2 930.7 706.0 931.0 C 703.8 931.3 704.0 931.7 703.0 930.0 C 702.0 928.3 702.7 921.5 700.0 921.0 C 697.3 920.5 689.3 928.0 687.0 927.0 C 684.7 926.0 686.0 919.0 686.0 915.0 C 686.0 911.0 686.0 907.2 687.0 903.0 Z" fill="#9fd5d1" stroke="#5a5555" stroke-width="2.2" stroke-linejoin="round"/>
<path d="M 587.5 899.0 C 590.4 895.8 592.9 901.2 600.0 903.0 C 607.1 904.8 622.0 908.0 630.0 910.0 C 638.0 912.0 643.0 914.0 648.0 915.0 C 653.0 916.0 656.3 914.2 660.0 916.0 C 663.7 917.8 666.7 923.5 670.0 926.0 C 673.3 928.5 677.2 930.8 680.0 931.0 C 682.8 931.2 683.7 928.7 687.0 927.0 C 690.3 925.3 697.3 920.5 700.0 921.0 C 702.7 921.5 702.0 928.3 703.0 930.0 C 704.0 931.7 703.8 931.3 706.0 931.0 C 708.2 930.7 714.5 926.8 716.0 928.0 C 717.5 929.2 715.8 934.5 715.0 938.0 C 714.2 941.5 712.7 946.3 711.0 949.0 C 709.3 951.7 708.5 953.3 705.0 954.0 C 701.5 954.7 694.8 953.7 690.0 953.0 C 685.2 952.3 680.3 950.2 676.0 950.0 C 671.7 949.8 668.0 950.5 664.0 952.0 C 660.0 953.5 654.8 956.0 652.0 959.0 C 649.2 962.0 648.0 967.3 647.0 970.0 C 646.0 972.7 648.8 975.0 646.0 975.0 C 643.2 975.0 637.2 972.9 630.0 970.0 C 622.8 967.1 612.9 961.8 602.5 957.5 C 592.1 953.2 570.8 949.8 567.5 944.0 C 564.2 938.2 579.2 930.0 582.5 922.5 C 585.8 915.0 584.6 902.2 587.5 899.0 Z" fill="#cfe9e8" stroke="#5a5555" stroke-width="2.2" stroke-linejoin="round"/>
<path d="M 670.0 952.0 C 674.8 951.7 696.3 953.2 703.0 956.0 C 709.7 958.8 708.0 965.3 710.0 969.0 C 712.0 972.7 712.3 975.0 715.0 978.0 C 717.7 981.0 724.0 984.5 726.0 987.0 C 728.0 989.5 728.3 990.5 727.0 993.0 C 725.7 995.5 720.8 1000.5 718.0 1002.0 C 715.2 1003.5 713.0 1002.5 710.0 1002.0 C 707.0 1001.5 702.0 1000.0 700.0 999.0 C 698.0 998.0 697.5 998.3 698.0 996.0 C 698.5 993.7 702.5 987.3 703.0 985.0 C 703.5 982.7 703.2 982.2 701.0 982.0 C 698.8 981.8 693.5 984.5 690.0 984.0 C 686.5 983.5 682.3 981.3 680.0 979.0 C 677.7 976.7 677.0 973.5 676.0 970.0 C 675.0 966.5 675.0 961.0 674.0 958.0 C 673.0 955.0 665.2 952.3 670.0 952.0 Z" fill="#9fd5d1" stroke="#5a5555" stroke-width="2.2" stroke-linejoin="round"/>
<path d="M 562.5 957.5 C 564.8 955.2 566.2 956.2 577.5 960.0 C 588.8 963.8 618.6 977.3 630.0 980.0 C 641.4 982.7 642.3 979.3 646.0 976.0 C 649.7 972.7 649.0 963.8 652.0 960.0 C 655.0 956.2 660.3 953.7 664.0 953.0 C 667.7 952.3 672.0 953.2 674.0 956.0 C 676.0 958.8 675.0 966.2 676.0 970.0 C 677.0 973.8 677.7 976.7 680.0 979.0 C 682.3 981.3 686.5 983.5 690.0 984.0 C 693.5 984.5 698.8 981.8 701.0 982.0 C 703.2 982.2 703.5 982.7 703.0 985.0 C 702.5 987.3 700.2 992.8 698.0 996.0 C 695.8 999.2 692.2 1002.2 690.0 1004.0 C 687.8 1005.8 688.0 1005.2 685.0 1007.0 C 682.0 1008.8 675.2 1014.2 672.0 1015.0 C 668.8 1015.8 667.7 1011.7 666.0 1012.0 C 664.3 1012.3 664.3 1016.8 662.0 1017.0 C 659.7 1017.2 655.3 1014.2 652.0 1013.0 C 648.7 1011.8 646.0 1010.2 642.0 1010.0 C 638.0 1009.8 631.2 1010.3 628.0 1012.0 C 624.8 1013.7 623.9 1017.4 623.0 1020.0 C 622.1 1022.6 628.0 1027.9 622.5 1027.5 C 617.0 1027.1 602.5 1021.9 590.0 1017.5 C 577.5 1013.1 554.6 1004.9 547.5 1001.0 C 540.4 997.1 545.6 996.0 547.5 994.0 C 549.4 992.0 556.2 992.3 559.0 989.0 C 561.8 985.7 563.4 979.2 564.0 974.0 C 564.6 968.8 560.2 959.8 562.5 957.5 Z" fill="#cfe9e8" stroke="#5a5555" stroke-width="2.2" stroke-linejoin="round"/>
<path d="M 642.5 1011.0 C 645.0 1008.9 655.0 1017.0 660.0 1017.5 C 665.0 1018.0 668.3 1015.9 672.5 1014.0 C 676.7 1012.1 682.5 1005.0 685.0 1006.0 C 687.5 1007.0 683.8 1015.2 687.5 1020.0 C 691.2 1024.8 703.3 1030.8 707.5 1035.0 C 711.7 1039.2 711.9 1041.7 712.5 1045.0 C 713.1 1048.3 712.1 1052.9 711.0 1055.0 C 709.9 1057.1 709.5 1057.9 706.0 1057.5 C 702.5 1057.1 694.8 1053.6 690.0 1052.5 C 685.2 1051.4 680.0 1052.7 677.5 1051.0 C 675.0 1049.3 676.7 1045.0 675.0 1042.5 C 673.3 1040.0 670.7 1038.1 667.5 1036.0 C 664.3 1033.9 659.8 1031.0 656.0 1030.0 C 652.2 1029.0 647.2 1033.2 645.0 1030.0 C 642.8 1026.8 640.0 1013.1 642.5 1011.0 Z" fill="#9fd5d1" stroke="#5a5555" stroke-width="2.2" stroke-linejoin="round"/>
<path d="M 545.0 1012.5 C 545.7 1010.2 545.7 1009.9 549.0 1011.0 C 552.3 1012.1 556.1 1015.2 565.0 1019.0 C 573.9 1022.8 592.1 1030.7 602.5 1034.0 C 612.9 1037.3 621.2 1039.0 627.5 1039.0 C 633.8 1039.0 635.2 1035.5 640.0 1034.0 C 644.8 1032.5 651.8 1029.7 656.0 1030.0 C 660.2 1030.3 662.0 1034.5 665.0 1036.0 C 668.0 1037.5 672.2 1037.3 674.0 1039.0 C 675.8 1040.7 676.8 1043.3 676.0 1046.0 C 675.2 1048.7 673.5 1053.3 669.0 1055.0 C 664.5 1056.7 651.2 1053.3 649.0 1056.0 C 646.8 1058.7 656.7 1067.2 656.0 1071.0 C 655.3 1074.8 649.5 1079.0 645.0 1079.0 C 640.5 1079.0 633.0 1073.5 629.0 1071.0 C 625.0 1068.5 623.2 1064.2 621.0 1064.0 C 618.8 1063.8 617.2 1066.9 616.0 1070.0 C 614.8 1073.1 615.4 1079.6 614.0 1082.5 C 612.6 1085.4 610.5 1086.9 607.5 1087.5 C 604.5 1088.1 601.0 1087.4 596.0 1086.0 C 591.0 1084.6 584.3 1081.8 577.5 1079.0 C 570.7 1076.2 562.5 1072.0 555.0 1069.0 C 547.5 1066.0 536.8 1063.3 532.5 1061.0 C 528.2 1058.7 527.3 1058.5 529.0 1055.0 C 530.7 1051.5 539.8 1045.0 542.5 1040.0 C 545.2 1035.0 544.6 1029.6 545.0 1025.0 C 545.4 1020.4 544.3 1014.8 545.0 1012.5 Z" fill="#cfe9e8" stroke="#5a5555" stroke-width="2.2" stroke-linejoin="round"/>
<path d="M 648.0 1057.0 C 649.8 1054.8 663.5 1055.5 668.0 1057.0 C 672.5 1058.5 672.2 1063.2 675.0 1066.0 C 677.8 1068.8 680.8 1071.5 685.0 1074.0 C 689.2 1076.5 696.3 1078.3 700.0 1081.0 C 703.7 1083.7 705.8 1086.0 707.0 1090.0 C 708.2 1094.0 708.2 1101.2 707.0 1105.0 C 705.8 1108.8 702.8 1112.2 700.0 1113.0 C 697.2 1113.8 694.2 1112.2 690.0 1110.0 C 685.8 1107.8 678.8 1102.0 675.0 1100.0 C 671.2 1098.0 671.2 1099.0 667.0 1098.0 C 662.8 1097.0 653.5 1095.3 650.0 1094.0 C 646.5 1092.7 647.7 1091.3 646.0 1090.0 C 644.3 1088.7 642.3 1086.5 640.0 1086.0 C 637.7 1085.5 633.5 1089.2 632.0 1087.0 C 630.5 1084.8 629.2 1074.2 631.0 1073.0 C 632.8 1071.8 638.7 1080.5 643.0 1080.0 C 647.3 1079.5 656.2 1073.8 657.0 1070.0 C 657.8 1066.2 646.2 1059.2 648.0 1057.0 Z" fill="#9fd5d1" stroke="#5a5555" stroke-width="2.2" stroke-linejoin="round"/>
<path d="M 524.0 1070.0 C 525.1 1067.8 524.2 1066.2 529.0 1067.5 C 533.8 1068.8 540.7 1072.9 552.5 1077.5 C 564.3 1082.1 589.8 1090.9 600.0 1095.0 C 610.2 1099.1 609.0 1103.3 614.0 1102.0 C 619.0 1100.7 625.3 1089.5 630.0 1087.0 C 634.7 1084.5 639.3 1086.0 642.0 1087.0 C 644.7 1088.0 646.5 1091.0 646.0 1093.0 C 645.5 1095.0 637.7 1098.8 639.0 1099.0 C 640.3 1099.2 649.8 1094.8 654.0 1094.5 C 658.2 1094.2 662.0 1095.4 664.0 1097.0 C 666.0 1098.6 668.0 1101.8 666.0 1104.0 C 664.0 1106.2 655.7 1108.5 652.0 1110.0 C 648.3 1111.5 645.5 1110.8 644.0 1113.0 C 642.5 1115.2 644.3 1121.0 643.0 1123.0 C 641.7 1125.0 638.5 1125.7 636.0 1125.0 C 633.5 1124.3 630.7 1120.7 628.0 1119.0 C 625.3 1117.3 624.3 1115.2 620.0 1115.0 C 615.7 1114.8 606.0 1116.3 602.0 1118.0 C 598.0 1119.7 597.8 1121.5 596.0 1125.0 C 594.2 1128.5 592.2 1136.5 591.0 1139.0 C 589.8 1141.5 592.3 1140.0 589.0 1140.0 C 585.7 1140.0 577.1 1140.7 571.0 1139.0 C 564.9 1137.3 559.8 1133.2 552.5 1130.0 C 545.2 1126.8 534.4 1122.1 527.5 1120.0 C 520.6 1117.9 513.8 1119.6 511.0 1117.5 C 508.2 1115.4 509.7 1110.4 511.0 1107.5 C 512.3 1104.6 517.1 1104.4 519.0 1100.0 C 520.9 1095.6 521.7 1086.0 522.5 1081.0 C 523.3 1076.0 522.9 1072.2 524.0 1070.0 Z" fill="#cfe9e8" stroke="#5a5555" stroke-width="2.2" stroke-linejoin="round"/>
<path d="M 618.0 1116.0 C 620.0 1112.5 625.0 1117.5 628.0 1119.0 C 631.0 1120.5 633.5 1124.3 636.0 1125.0 C 638.5 1125.7 641.3 1125.0 643.0 1123.0 C 644.7 1121.0 644.8 1114.8 646.0 1113.0 C 647.2 1111.2 647.7 1110.5 650.0 1112.0 C 652.3 1113.5 656.7 1119.3 660.0 1122.0 C 663.3 1124.7 666.0 1126.7 670.0 1128.0 C 674.0 1129.3 680.7 1128.5 684.0 1130.0 C 687.3 1131.5 687.8 1135.7 690.0 1137.0 C 692.2 1138.3 695.7 1136.7 697.0 1138.0 C 698.3 1139.3 698.7 1142.2 698.0 1145.0 C 697.3 1147.8 694.7 1150.8 693.0 1155.0 C 691.3 1159.2 689.5 1166.3 688.0 1170.0 C 686.5 1173.7 686.2 1176.2 684.0 1177.0 C 681.8 1177.8 678.3 1176.5 675.0 1175.0 C 671.7 1173.5 667.8 1170.5 664.0 1168.0 C 660.2 1165.5 656.0 1161.3 652.0 1160.0 C 648.0 1158.7 643.3 1160.0 640.0 1160.0 C 636.7 1160.0 635.3 1161.0 632.0 1160.0 C 628.7 1159.0 622.7 1157.3 620.0 1154.0 C 617.3 1150.7 616.3 1146.3 616.0 1140.0 C 615.7 1133.7 616.0 1119.5 618.0 1116.0 Z" fill="#9fd5d1" stroke="#5a5555" stroke-width="2.2" stroke-linejoin="round"/>
<path d="M 510.0 1131.0 C 510.7 1127.7 509.0 1127.8 514.0 1130.0 C 519.0 1132.2 529.4 1140.5 540.0 1144.0 C 550.6 1147.5 568.5 1149.6 577.5 1151.0 C 586.5 1152.4 589.8 1152.8 594.0 1152.5 C 598.2 1152.2 600.2 1149.4 602.5 1149.0 C 604.8 1148.6 605.1 1148.8 608.0 1150.0 C 610.9 1151.2 615.8 1154.2 620.0 1156.0 C 624.2 1157.8 630.5 1157.7 633.0 1161.0 C 635.5 1164.3 636.3 1173.2 635.0 1176.0 C 633.7 1178.8 630.0 1178.5 625.0 1178.0 C 620.0 1177.5 610.8 1174.0 605.0 1173.0 C 599.2 1172.0 593.4 1171.2 590.0 1172.0 C 586.6 1172.8 585.8 1174.7 584.5 1178.0 C 583.2 1181.3 587.9 1189.7 582.0 1192.0 C 576.1 1194.3 559.2 1193.0 549.0 1192.0 C 538.8 1191.0 529.5 1188.6 521.0 1186.0 C 512.5 1183.4 500.7 1180.4 498.0 1176.5 C 495.3 1172.6 503.0 1166.9 505.0 1162.5 C 507.0 1158.1 509.2 1155.2 510.0 1150.0 C 510.8 1144.8 509.3 1134.3 510.0 1131.0 Z" fill="#cfe9e8" stroke="#5a5555" stroke-width="2.2" stroke-linejoin="round"/>
<path d="M 635.0 1162.0 C 636.5 1161.0 640.5 1167.0 644.0 1170.0 C 647.5 1173.0 651.0 1177.7 656.0 1180.0 C 661.0 1182.3 670.5 1182.5 674.0 1184.0 C 677.5 1185.5 675.4 1188.0 677.0 1189.0 C 678.6 1190.0 682.0 1186.8 683.5 1190.0 C 685.0 1193.2 685.8 1204.1 686.0 1208.0 C 686.2 1211.9 687.7 1211.0 685.0 1213.5 C 682.3 1216.0 674.8 1221.8 670.0 1223.0 C 665.2 1224.2 660.8 1222.5 656.0 1220.5 C 651.2 1218.5 644.9 1213.1 641.0 1211.0 C 637.1 1208.9 635.3 1209.7 632.5 1208.0 C 629.7 1206.3 627.9 1202.8 624.0 1201.0 C 620.1 1199.2 612.3 1197.2 609.0 1197.0 C 605.7 1196.8 604.8 1203.7 604.0 1200.0 C 603.2 1196.3 600.5 1178.7 604.0 1175.0 C 607.5 1171.3 619.8 1177.8 625.0 1178.0 C 630.2 1178.2 633.3 1178.7 635.0 1176.0 C 636.7 1173.3 633.5 1163.0 635.0 1162.0 Z" fill="#9fd5d1" stroke="#5a5555" stroke-width="2.2" stroke-linejoin="round"/>
<path d="M 498.0 1198.5 C 504.0 1196.7 520.8 1203.6 535.0 1204.0 C 549.2 1204.4 573.8 1201.0 583.0 1201.0 C 592.2 1201.0 587.9 1203.3 590.0 1204.0 C 592.1 1204.7 592.3 1206.2 595.5 1205.0 C 598.7 1203.8 604.2 1197.7 609.0 1197.0 C 613.8 1196.3 620.1 1199.2 624.0 1201.0 C 627.9 1202.8 629.5 1206.3 632.5 1208.0 C 635.5 1209.7 640.4 1209.3 642.0 1211.0 C 643.6 1212.7 642.8 1215.5 642.0 1218.0 C 641.2 1220.5 639.5 1224.5 637.0 1226.0 C 634.5 1227.5 630.2 1227.9 627.0 1227.0 C 623.8 1226.1 619.5 1220.5 617.5 1220.5 C 615.5 1220.5 615.8 1224.1 615.0 1227.0 C 614.2 1229.9 615.3 1235.8 613.0 1238.0 C 610.7 1240.2 604.8 1240.4 601.0 1240.0 C 597.2 1239.6 593.5 1236.2 590.0 1235.5 C 586.5 1234.8 581.8 1234.3 580.0 1235.5 C 578.2 1236.7 578.7 1239.5 579.0 1242.5 C 579.3 1245.5 584.8 1251.2 582.0 1253.5 C 579.2 1255.8 570.3 1255.1 562.5 1256.0 C 554.7 1256.9 545.3 1259.7 535.0 1259.0 C 524.7 1258.3 506.0 1256.2 500.5 1252.0 C 495.0 1247.8 502.2 1240.2 502.0 1234.0 C 501.8 1227.8 499.7 1220.9 499.0 1215.0 C 498.3 1209.1 492.0 1200.3 498.0 1198.5 Z" fill="#cfe9e8" stroke="#5a5555" stroke-width="2.2" stroke-linejoin="round"/>
<path d="M 615.0 1220.5 C 617.3 1218.7 623.3 1226.1 627.0 1227.0 C 630.7 1227.9 632.0 1224.8 637.0 1226.0 C 642.0 1227.2 651.1 1231.7 657.0 1234.0 C 662.9 1236.3 669.0 1238.2 672.5 1240.0 C 676.0 1241.8 676.4 1243.9 678.0 1245.0 C 679.6 1246.1 681.8 1244.9 682.0 1246.6 C 682.2 1248.3 678.8 1251.3 679.0 1255.0 C 679.2 1258.7 683.7 1265.4 683.5 1268.6 C 683.3 1271.8 682.1 1274.0 678.0 1274.0 C 673.9 1274.0 668.0 1269.8 659.0 1268.6 C 650.0 1267.4 630.7 1268.6 624.0 1267.0 C 617.3 1265.4 623.1 1260.8 619.0 1259.0 C 614.9 1257.2 602.8 1259.2 599.6 1256.0 C 596.4 1252.8 597.4 1243.0 599.6 1240.0 C 601.8 1237.0 610.4 1241.2 613.0 1238.0 C 615.6 1234.8 612.7 1222.3 615.0 1220.5 Z" fill="#9fd5d1" stroke="#5a5555" stroke-width="2.2" stroke-linejoin="round"/>
<path d="M 502.0 1275.5 C 506.6 1273.0 522.2 1275.4 535.0 1274.0 C 547.8 1272.6 570.3 1267.7 579.0 1267.0 C 587.7 1266.3 583.8 1271.8 587.0 1270.0 C 590.2 1268.2 592.9 1257.8 598.0 1256.0 C 603.1 1254.2 612.8 1256.9 617.5 1259.0 C 622.2 1261.1 622.8 1266.6 626.0 1268.6 C 629.2 1270.6 636.2 1268.4 637.0 1271.0 C 637.8 1273.6 633.2 1281.2 631.0 1284.0 C 628.8 1286.8 626.7 1288.3 624.0 1288.0 C 621.3 1287.7 617.0 1282.7 615.0 1282.0 C 613.0 1281.3 612.5 1281.8 612.0 1284.0 C 611.5 1286.2 612.9 1291.7 612.0 1295.0 C 611.1 1298.3 608.8 1301.8 606.5 1304.0 C 604.2 1306.2 600.8 1308.2 598.0 1308.5 C 595.2 1308.8 592.7 1307.4 590.0 1306.0 C 587.3 1304.6 583.8 1300.5 582.0 1300.0 C 580.2 1299.5 579.0 1301.2 579.0 1303.0 C 579.0 1304.8 584.8 1307.8 582.0 1311.0 C 579.2 1314.2 570.3 1319.5 562.5 1322.0 C 554.7 1324.5 542.3 1325.3 535.0 1326.0 C 527.7 1326.7 522.0 1328.5 518.5 1326.0 C 515.0 1323.5 515.8 1317.2 514.0 1311.0 C 512.2 1304.8 509.5 1294.9 507.5 1289.0 C 505.5 1283.1 497.4 1278.0 502.0 1275.5 Z" fill="#cfe9e8" stroke="#5a5555" stroke-width="2.2" stroke-linejoin="round"/>
<path d="M 615.0 1282.0 C 617.0 1282.7 620.3 1289.3 624.0 1288.0 C 627.7 1286.7 631.2 1275.7 637.0 1274.0 C 642.8 1272.3 652.2 1277.3 659.0 1278.0 C 665.8 1278.7 673.5 1276.6 678.0 1278.0 C 682.5 1279.4 684.2 1282.8 686.0 1286.5 C 687.8 1290.2 689.0 1295.9 689.0 1300.0 C 689.0 1304.1 687.8 1308.5 686.0 1311.0 C 684.2 1313.5 682.5 1315.0 678.0 1315.0 C 673.5 1315.0 665.7 1311.7 659.0 1311.0 C 652.3 1310.3 643.1 1311.2 638.0 1311.0 C 632.9 1310.8 632.3 1310.4 628.5 1310.0 C 624.7 1309.6 618.7 1309.5 615.0 1308.5 C 611.3 1307.5 607.0 1306.2 606.5 1304.0 C 606.0 1301.8 611.1 1298.3 612.0 1295.0 C 612.9 1291.7 611.5 1286.2 612.0 1284.0 C 612.5 1281.8 613.0 1281.3 615.0 1282.0 Z" fill="#9fd5d1" stroke="#5a5555" stroke-width="2.2" stroke-linejoin="round"/>
<path d="M 537.0 1348.5 C 536.3 1347.2 531.7 1350.3 537.0 1348.5 C 542.3 1346.6 560.3 1342.2 568.8 1337.4 C 577.2 1332.6 581.6 1324.1 588.0 1319.5 C 594.4 1314.9 601.0 1311.8 607.0 1309.8 C 613.0 1307.7 619.3 1307.0 624.0 1307.0 C 628.7 1307.0 631.8 1307.7 635.0 1309.8 C 638.2 1311.8 639.7 1316.8 643.5 1319.5 C 647.3 1322.2 651.5 1324.4 658.0 1326.0 C 664.5 1327.6 676.8 1327.2 682.5 1329.0 C 688.2 1330.8 689.1 1333.2 692.0 1337.0 C 694.9 1340.8 698.9 1348.4 700.0 1352.0 C 701.1 1355.6 699.8 1356.8 698.8 1358.5 C 697.8 1360.2 692.4 1359.8 694.0 1362.0 C 695.6 1364.2 703.9 1367.8 708.5 1371.5 C 713.1 1375.2 718.6 1379.9 721.5 1384.5 C 724.4 1389.1 725.2 1394.4 726.0 1399.0 C 726.8 1403.6 727.8 1409.5 726.0 1412.0 C 724.2 1414.5 716.3 1412.1 715.0 1414.0 C 713.7 1415.9 716.7 1420.0 718.0 1423.5 C 719.3 1427.0 722.7 1430.7 723.0 1435.0 C 723.3 1439.3 722.2 1444.9 720.0 1449.5 C 717.8 1454.1 711.7 1457.9 710.0 1462.5 C 708.3 1467.1 711.8 1472.9 710.0 1477.0 C 708.2 1481.1 701.4 1482.7 699.0 1487.0 C 696.6 1491.3 698.2 1499.5 695.5 1503.0 C 692.8 1506.5 685.8 1506.1 682.5 1508.0 C 679.2 1509.9 679.8 1512.9 676.0 1514.5 C 672.2 1516.1 663.0 1518.0 660.0 1517.8 C 657.0 1517.5 657.0 1516.8 658.0 1513.0 C 659.0 1509.2 664.1 1500.7 666.0 1495.0 C 667.9 1489.3 669.5 1484.4 669.5 1478.8 C 669.5 1473.1 667.4 1465.3 666.0 1461.0 C 664.6 1456.7 660.6 1454.4 661.4 1452.8 C 662.2 1451.1 668.3 1452.6 671.0 1451.0 C 673.7 1449.4 676.8 1446.0 677.6 1443.0 C 678.4 1440.0 678.7 1439.5 676.0 1433.0 C 673.3 1426.5 666.8 1412.3 661.4 1404.0 C 656.0 1395.7 649.5 1389.0 643.5 1383.0 C 637.5 1377.0 629.1 1372.1 625.6 1368.0 C 622.1 1363.9 622.4 1361.7 622.4 1358.5 C 622.4 1355.3 625.9 1353.6 625.6 1348.8 C 625.3 1343.9 622.7 1333.6 620.8 1329.2 C 618.8 1324.9 617.3 1323.8 614.0 1322.8 C 610.7 1321.7 605.3 1321.4 601.0 1322.8 C 596.7 1324.1 592.3 1326.7 588.0 1331.0 C 583.7 1335.3 580.5 1342.7 575.0 1348.8 C 569.5 1354.8 558.1 1364.4 554.8 1367.5 C 551.4 1370.6 555.9 1368.2 554.7 1367.5 C 553.5 1366.8 549.8 1365.3 547.5 1363.5 C 545.2 1361.7 542.8 1359.0 541.0 1356.5 C 539.2 1354.0 537.7 1349.8 537.0 1348.5 Z" fill="#9fd5d1" stroke="#5a5555" stroke-width="2.2" stroke-linejoin="round"/>
<path d="M 604.5 1548.6 C 606.1 1547.0 611.3 1545.6 617.5 1543.8 C 623.7 1541.9 634.3 1540.8 641.9 1537.2 C 649.5 1533.7 657.3 1525.8 663.0 1522.6 C 668.7 1519.3 672.2 1519.1 676.0 1517.8 C 679.8 1516.4 683.3 1514.5 685.8 1514.5 C 688.2 1514.5 690.3 1516.1 690.6 1517.8 C 690.9 1519.4 690.1 1522.4 687.4 1524.2 C 684.7 1526.1 679.3 1526.8 674.4 1529.0 C 669.5 1531.2 663.1 1534.5 658.0 1537.2 C 652.9 1540.0 649.2 1543.0 643.5 1545.4 C 637.8 1547.8 630.0 1550.6 624.0 1551.9 C 618.0 1553.2 611.0 1554.0 607.8 1553.5 C 604.5 1553.0 602.9 1550.2 604.5 1548.6 Z" fill="#9fd5d1" stroke="#5a5555" stroke-width="2.2" stroke-linejoin="round"/>
<path d="M 554.8 1367.5 C 554.6 1369.2 552.8 1374.6 554.0 1378.0 C 555.2 1381.4 556.8 1384.0 562.0 1387.8 C 567.2 1391.5 576.8 1397.0 585.0 1400.8 C 593.2 1404.5 604.0 1407.2 611.0 1410.5 C 618.0 1413.8 622.4 1415.4 627.2 1420.2 C 632.1 1425.1 636.5 1435.1 640.2 1439.8 C 644.0 1444.4 646.5 1445.7 650.0 1447.9 C 653.5 1450.1 659.5 1451.9 661.4 1452.8 " fill="none" stroke="#5a5555" stroke-width="2.2" stroke-linecap="round"/>
<path d="M 511.0 1117.5 C 510.8 1118.6 510.2 1121.8 510.0 1124.0 C 509.8 1126.2 510.0 1129.8 510.0 1131.0 " fill="none" stroke="#5a5555" stroke-width="2.2" stroke-linecap="round"/>
<path d="M 498.0 1176.5 C 498.4 1178.3 500.6 1183.8 500.6 1187.5 C 500.6 1191.2 498.4 1196.7 498.0 1198.5 " fill="none" stroke="#5a5555" stroke-width="2.2" stroke-linecap="round"/>
<path d="M 584.5 1178.0 C 584.2 1180.0 583.2 1186.2 583.0 1190.0 C 582.8 1193.8 583.0 1199.2 583.0 1201.0 " fill="none" stroke="#5a5555" stroke-width="2.2" stroke-linecap="round"/>
<path d="M 500.6 1252.0 C 501.1 1254.1 503.2 1260.6 503.4 1264.5 C 503.6 1268.4 502.2 1273.7 502.0 1275.5 " fill="none" stroke="#5a5555" stroke-width="2.2" stroke-linecap="round"/>
<path d="M 582.0 1253.5 C 581.7 1254.6 580.5 1257.8 580.0 1260.0 C 579.5 1262.2 579.2 1265.8 579.0 1267.0 " fill="none" stroke="#5a5555" stroke-width="2.2" stroke-linecap="round"/>
<path d="M 518.5 1327.8 C 519.9 1328.9 524.5 1332.3 526.8 1334.6 C 529.0 1336.9 530.3 1339.2 532.0 1341.5 C 533.7 1343.8 536.2 1347.3 537.0 1348.5 " fill="none" stroke="#5a5555" stroke-width="2.2" stroke-linecap="round"/>
<path d="M 582.0 1311.0 C 582.8 1312.4 586.2 1318.1 587.0 1319.5 " fill="none" stroke="#5a5555" stroke-width="2.2" stroke-linecap="round"/>
<line x1="662" y1="114.6" x2="1167" y2="114.6" stroke="#0f2746" stroke-width="2.4"/>
<line x1="695" y1="165" x2="1167" y2="165" stroke="#0f2746" stroke-width="2.4"/>
<line x1="792.5" y1="443" x2="1167" y2="443" stroke="#0f2746" stroke-width="2.4"/>
<line x1="792" y1="1044" x2="1167" y2="1044" stroke="#0f2746" stroke-width="2.4"/>
<line x1="261" y1="114.4" x2="439" y2="114.4" stroke="#0f2746" stroke-width="2.4"/>
<line x1="261" y1="165.6" x2="428.75" y2="165.6" stroke="#0f2746" stroke-width="2.4"/>
<line x1="359.7" y1="443.1" x2="470.7" y2="443.1" stroke="#0f2746" stroke-width="2.4"/>
<line x1="360.3" y1="1044" x2="446.5" y2="1044" stroke="#0f2746" stroke-width="2.4"/>
<line x1="356.9" y1="209.7" x2="426.6" y2="209.7" stroke="#4f4f4f" stroke-width="2.2"/>
<line x1="361.6" y1="256.6" x2="424.4" y2="256.6" stroke="#4f4f4f" stroke-width="2.2"/>
<line x1="361.6" y1="303" x2="427.6" y2="303" stroke="#4f4f4f" stroke-width="2.2"/>
<line x1="361.6" y1="349.8" x2="432" y2="349.8" stroke="#4f4f4f" stroke-width="2.2"/>
<line x1="358.4" y1="396.3" x2="451.6" y2="396.3" stroke="#4f4f4f" stroke-width="2.2"/>
<line x1="358.4" y1="493.5" x2="485.9" y2="493.5" stroke="#4f4f4f" stroke-width="2.2"/>
<line x1="358.4" y1="543.2" x2="510.3" y2="543.2" stroke="#4f4f4f" stroke-width="2.2"/>
<line x1="358.4" y1="593.4" x2="527.6" y2="593.4" stroke="#4f4f4f" stroke-width="2.2"/>
<line x1="358.4" y1="643.1" x2="530.7" y2="643.1" stroke="#4f4f4f" stroke-width="2.2"/>
<line x1="363" y1="693.2" x2="529.8" y2="693.2" stroke="#4f4f4f" stroke-width="2.2"/>
<line x1="365.3" y1="743.1" x2="524.7" y2="743.1" stroke="#4f4f4f" stroke-width="2.2"/>
<line x1="365.3" y1="793.4" x2="522.3" y2="793.4" stroke="#4f4f4f" stroke-width="2.2"/>
<line x1="365.3" y1="843.1" x2="507" y2="843.1" stroke="#4f4f4f" stroke-width="2.2"/>
<line x1="358.4" y1="893.4" x2="492.8" y2="893.4" stroke="#4f4f4f" stroke-width="2.2"/>
<line x1="358.4" y1="943.1" x2="479.7" y2="943.1" stroke="#4f4f4f" stroke-width="2.2"/>
<line x1="358.4" y1="993.1" x2="468.8" y2="993.1" stroke="#4f4f4f" stroke-width="2.2"/>
<line x1="358.4" y1="1108.1" x2="432.2" y2="1108.1" stroke="#4f4f4f" stroke-width="2.2"/>
<line x1="358.4" y1="1172.3" x2="425.3" y2="1172.3" stroke="#4f4f4f" stroke-width="2.2"/>
<line x1="358.4" y1="1236.2" x2="423" y2="1236.2" stroke="#4f4f4f" stroke-width="2.2"/>
<line x1="358.4" y1="1300.3" x2="434.3" y2="1300.3" stroke="#4f4f4f" stroke-width="2.2"/>
<rect x="863.40" y="83.95" width="3.80" height="20.80" fill="#214a66"/><rect x="860.20" y="83.95" width="7.00" height="2.50" fill="#214a66"/><rect x="860.20" y="102.15" width="9.50" height="2.60" fill="#214a66"/><path transform="translate(872.3 104.75)" d="M 11.3 -12.15 C 10.2 -13.15, 8.5 -13.45, 6.6 -13.45 C 3.7 -13.45, 1.8 -12.15, 1.8 -10.05 C 1.8 -7.75, 4 -7.25, 6.7 -6.65 C 9.7 -6.05, 11.4 -5.25, 11.4 -3.45 C 11.4 -1.65, 9.4 -1.45, 6.6 -1.45 C 4.3 -1.45, 2.3 -2.25, 1.2 -3.25" fill="none" stroke="#214a66" stroke-width="3.4"/><path transform="translate(887.2 104.75)" d="M 4.3 -18.65 L 4.3 -5.5 C 4.3 -2.6, 5.6 -1.7, 7.8 -1.7 L 10.3 -1.7" fill="none" stroke="#214a66" stroke-width="3.4"/><rect x="887.20" y="88.65" width="10.10" height="3.20" fill="#214a66"/><path transform="translate(907.2 104.75)" d="M 16.9 -16.5 A 8.6 9.35 0 1 0 16.9 -4.3" fill="none" stroke="#214a66" stroke-width="3.4"/><path transform="translate(927.3 104.75)" d="M 1.7 -7.6 L 13.6 -7.6 C 13.6 -11.3, 11 -13.65, 7.65 -13.65 C 4.2 -13.65, 1.7 -10.9, 1.7 -7.35 C 1.7 -3.7, 4.2 -1.05, 7.65 -1.05 C 9.8 -1.05, 11.6 -1.9, 12.8 -3.2" fill="none" stroke="#214a66" stroke-width="3.4"/><path transform="translate(945.4 104.75)" d="M 1.7 0 L 1.7 -14.75 M 1.7 -8.5 C 2.4 -11.8, 4.8 -13.05, 7.5 -13.05 L 10.4 -13.05" fill="none" stroke="#214a66" stroke-width="3.4"/><polygon points="958.40,90.00 961.90,90.00 965.00,100.15 968.10,90.00 971.60,90.00 967.10,104.75 962.90,104.75" fill="#214a66"/><rect x="977.10" y="90.00" width="3.80" height="14.75" fill="#214a66"/><circle cx="979.00" cy="85.45" r="2.1" fill="#214a66"/><path transform="translate(984 104.75)" d="M 12.0 -11.95 A 6.05 6.3 0 1 0 12.0 -3.05" fill="none" stroke="#214a66" stroke-width="3.4"/><ellipse cx="1006.00" cy="97.25" rx="5.8" ry="6.05" fill="none" stroke="#214a66" stroke-width="3.4"/><rect x="1010.90" y="90.00" width="3.60" height="14.75" fill="#214a66"/><rect x="1018.25" y="83.95" width="3.75" height="20.80" fill="#214a66"/><polygon points="1031.30,83.95 1035.20,83.95 1041.85,99.95 1048.50,83.95 1052.40,83.95 1044.20,104.75 1039.50,104.75" fill="#214a66"/><path transform="translate(1053.3 104.75)" d="M 1.7 -7.6 L 13.6 -7.6 C 13.6 -11.3, 11 -13.65, 7.65 -13.65 C 4.2 -13.65, 1.7 -10.9, 1.7 -7.35 C 1.7 -3.7, 4.2 -1.05, 7.65 -1.05 C 9.8 -1.05, 11.6 -1.9, 12.8 -3.2" fill="none" stroke="#214a66" stroke-width="3.4"/><path transform="translate(1072.4 104.75)" d="M 1.7 0 L 1.7 -14.75 M 1.7 -8.5 C 2.4 -11.8, 4.8 -13.05, 7.5 -13.05 L 10.4 -13.05" fill="none" stroke="#214a66" stroke-width="3.4"/><path transform="translate(1084.4 104.75)" d="M 4.3 -18.65 L 4.3 -5.5 C 4.3 -2.6, 5.6 -1.7, 7.8 -1.7 L 10.3 -1.7" fill="none" stroke="#214a66" stroke-width="3.4"/><rect x="1084.40" y="88.65" width="10.10" height="3.20" fill="#214a66"/><path transform="translate(1095.7 104.75)" d="M 1.7 -7.6 L 13.6 -7.6 C 13.6 -11.3, 11 -13.65, 7.65 -13.65 C 4.2 -13.65, 1.7 -10.9, 1.7 -7.35 C 1.7 -3.7, 4.2 -1.05, 7.65 -1.05 C 9.8 -1.05, 11.6 -1.9, 12.8 -3.2" fill="none" stroke="#214a66" stroke-width="3.4"/><rect x="1114.30" y="83.95" width="3.80" height="20.80" fill="#214a66"/><ellipse cx="1122.60" cy="97.25" rx="5.0" ry="6.05" fill="none" stroke="#214a66" stroke-width="3.4"/><path transform="translate(1133.9 104.75)" d="M 1.7 0 L 1.7 -14.75 M 1.7 -8.5 C 2.4 -11.8, 4.8 -13.05, 7.5 -13.05 L 10.4 -13.05" fill="none" stroke="#214a66" stroke-width="3.4"/><ellipse cx="1153.70" cy="97.25" rx="5.8" ry="6.05" fill="none" stroke="#214a66" stroke-width="3.4"/><rect x="1158.60" y="90.00" width="3.60" height="14.75" fill="#214a66"/>
<path transform="translate(843.1 153.85)" d="M 1.9 -15.2 C 2.8 -18.3, 5.3 -19.1, 8.4 -19.1 C 12.4 -19.1, 14.9 -16.8, 14.9 -13.9 C 14.9 -10.3, 11.6 -9.5, 7.6 -8.7 C 3.9 -7.9, 1.7 -6.4, 1.7 -3.6 L 1.7 -1.7 L 16.7 -1.7" fill="none" stroke="#214a66" stroke-width="3.4"/><rect x="862.80" y="139.10" width="3.70" height="14.75" fill="#214a66"/><path transform="translate(862.8 153.85)" d="M 1.9 -8.2 C 1.9 -11.6, 4.4 -13.05, 7.3 -13.05 C 10.4 -13.05, 12.4 -11.3, 12.4 -8.2 L 12.4 0" fill="none" stroke="#214a66" stroke-width="3.4"/><rect x="892.90" y="133.05" width="3.80" height="20.80" fill="#214a66"/><ellipse cx="888.40" cy="146.35" rx="5.0" ry="6.05" fill="none" stroke="#214a66" stroke-width="3.4"/><path transform="translate(907.2 153.85)" d="M 16.9 -16.5 A 8.6 9.35 0 1 0 16.9 -4.3" fill="none" stroke="#214a66" stroke-width="3.4"/><path transform="translate(927.3 153.85)" d="M 1.7 -7.6 L 13.6 -7.6 C 13.6 -11.3, 11 -13.65, 7.65 -13.65 C 4.2 -13.65, 1.7 -10.9, 1.7 -7.35 C 1.7 -3.7, 4.2 -1.05, 7.65 -1.05 C 9.8 -1.05, 11.6 -1.9, 12.8 -3.2" fill="none" stroke="#214a66" stroke-width="3.4"/><path transform="translate(945.4 153.85)" d="M 1.7 0 L 1.7 -14.75 M 1.7 -8.5 C 2.4 -11.8, 4.8 -13.05, 7.5 -13.05 L 10.4 -13.05" fill="none" stroke="#214a66" stroke-width="3.4"/><polygon points="958.40,139.10 961.90,139.10 965.00,149.25 968.10,139.10 971.60,139.10 967.10,153.85 962.90,153.85" fill="#214a66"/><rect x="977.10" y="139.10" width="3.80" height="14.75" fill="#214a66"/><circle cx="979.00" cy="134.55" r="2.1" fill="#214a66"/><path transform="translate(984 153.85)" d="M 12.0 -11.95 A 6.05 6.3 0 1 0 12.0 -3.05" fill="none" stroke="#214a66" stroke-width="3.4"/><ellipse cx="1006.00" cy="146.35" rx="5.8" ry="6.05" fill="none" stroke="#214a66" stroke-width="3.4"/><rect x="1010.90" y="139.10" width="3.60" height="14.75" fill="#214a66"/><rect x="1018.25" y="133.05" width="3.75" height="20.80" fill="#214a66"/><polygon points="1031.30,133.05 1035.20,133.05 1041.85,149.05 1048.50,133.05 1052.40,133.05 1044.20,153.85 1039.50,153.85" fill="#214a66"/><path transform="translate(1053.3 153.85)" d="M 1.7 -7.6 L 13.6 -7.6 C 13.6 -11.3, 11 -13.65, 7.65 -13.65 C 4.2 -13.65, 1.7 -10.9, 1.7 -7.35 C 1.7 -3.7, 4.2 -1.05, 7.65 -1.05 C 9.8 -1.05, 11.6 -1.9, 12.8 -3.2" fill="none" stroke="#214a66" stroke-width="3.4"/><path transform="translate(1072.4 153.85)" d="M 1.7 0 L 1.7 -14.75 M 1.7 -8.5 C 2.4 -11.8, 4.8 -13.05, 7.5 -13.05 L 10.4 -13.05" fill="none" stroke="#214a66" stroke-width="3.4"/><path transform="translate(1084.4 153.85)" d="M 4.3 -18.65 L 4.3 -5.5 C 4.3 -2.6, 5.6 -1.7, 7.8 -1.7 L 10.3 -1.7" fill="none" stroke="#214a66" stroke-width="3.4"/><rect x="1084.40" y="137.75" width="10.10" height="3.20" fill="#214a66"/><path transform="translate(1095.7 153.85)" d="M 1.7 -7.6 L 13.6 -7.6 C 13.6 -11.3, 11 -13.65, 7.65 -13.65 C 4.2 -13.65, 1.7 -10.9, 1.7 -7.35 C 1.7 -3.7, 4.2 -1.05, 7.65 -1.05 C 9.8 -1.05, 11.6 -1.9, 12.8 -3.2" fill="none" stroke="#214a66" stroke-width="3.4"/><rect x="1114.30" y="133.05" width="3.80" height="20.80" fill="#214a66"/><ellipse cx="1122.60" cy="146.35" rx="5.0" ry="6.05" fill="none" stroke="#214a66" stroke-width="3.4"/><path transform="translate(1133.9 153.85)" d="M 1.7 0 L 1.7 -14.75 M 1.7 -8.5 C 2.4 -11.8, 4.8 -13.05, 7.5 -13.05 L 10.4 -13.05" fill="none" stroke="#214a66" stroke-width="3.4"/><ellipse cx="1153.70" cy="146.35" rx="5.8" ry="6.05" fill="none" stroke="#214a66" stroke-width="3.4"/><rect x="1158.60" y="139.10" width="3.60" height="14.75" fill="#214a66"/>
<rect x="858.80" y="411.20" width="3.80" height="20.80" fill="#214a66"/><rect x="855.60" y="411.20" width="7.00" height="2.50" fill="#214a66"/><rect x="855.60" y="429.40" width="9.50" height="2.60" fill="#214a66"/><path transform="translate(868 432.0)" d="M 11.3 -12.15 C 10.2 -13.15, 8.5 -13.45, 6.6 -13.45 C 3.7 -13.45, 1.8 -12.15, 1.8 -10.05 C 1.8 -7.75, 4 -7.25, 6.7 -6.65 C 9.7 -6.05, 11.4 -5.25, 11.4 -3.45 C 11.4 -1.65, 9.4 -1.45, 6.6 -1.45 C 4.3 -1.45, 2.3 -2.25, 1.2 -3.25" fill="none" stroke="#214a66" stroke-width="3.4"/><path transform="translate(882 432.0)" d="M 4.3 -18.65 L 4.3 -5.5 C 4.3 -2.6, 5.6 -1.7, 7.8 -1.7 L 10.3 -1.7" fill="none" stroke="#214a66" stroke-width="3.4"/><rect x="882.00" y="415.90" width="10.10" height="3.20" fill="#214a66"/><rect x="902.30" y="411.10" width="16.55" height="3.40" fill="#214a66"/><rect x="908.55" y="411.10" width="3.80" height="20.90" fill="#214a66"/><rect x="922.00" y="411.10" width="3.80" height="20.90" fill="#214a66"/><path transform="translate(922 432.0)" d="M 1.9 -8.2 C 1.9 -11.6, 4.5 -13.05, 7.4 -13.05 C 10.5 -13.05, 12.3 -11.3, 12.3 -8.2 L 12.3 0" fill="none" stroke="#214a66" stroke-width="3.4"/><ellipse cx="947.05" cy="424.50" rx="6.45" ry="6.05" fill="none" stroke="#214a66" stroke-width="3.4"/><path transform="translate(958.1 432.0)" d="M 1.7 0 L 1.7 -14.75 M 1.7 -8.5 C 2.4 -11.8, 4.8 -13.05, 7.5 -13.05 L 10.4 -13.05" fill="none" stroke="#214a66" stroke-width="3.4"/><ellipse cx="976.75" cy="424.50" rx="5.8" ry="6.05" fill="none" stroke="#214a66" stroke-width="3.4"/><rect x="981.65" y="417.25" width="3.60" height="14.75" fill="#214a66"/><path transform="translate(987.8 432.0)" d="M 12.0 -11.95 A 6.05 6.3 0 1 0 12.0 -3.05" fill="none" stroke="#214a66" stroke-width="3.4"/><rect x="1004.10" y="417.25" width="3.80" height="14.75" fill="#214a66"/><circle cx="1006.00" cy="412.70" r="2.1" fill="#214a66"/><path transform="translate(1010.9 432.0)" d="M 12.0 -11.95 A 6.05 6.3 0 1 0 12.0 -3.05" fill="none" stroke="#214a66" stroke-width="3.4"/><polygon points="1031.30,411.20 1035.20,411.20 1041.85,427.20 1048.50,411.20 1052.40,411.20 1044.20,432.00 1039.50,432.00" fill="#214a66"/><path transform="translate(1053.3 432.0)" d="M 1.7 -7.6 L 13.6 -7.6 C 13.6 -11.3, 11 -13.65, 7.65 -13.65 C 4.2 -13.65, 1.7 -10.9, 1.7 -7.35 C 1.7 -3.7, 4.2 -1.05, 7.65 -1.05 C 9.8 -1.05, 11.6 -1.9, 12.8 -3.2" fill="none" stroke="#214a66" stroke-width="3.4"/><path transform="translate(1072.4 432.0)" d="M 1.7 0 L 1.7 -14.75 M 1.7 -8.5 C 2.4 -11.8, 4.8 -13.05, 7.5 -13.05 L 10.4 -13.05" fill="none" stroke="#214a66" stroke-width="3.4"/><path transform="translate(1084.4 432.0)" d="M 4.3 -18.65 L 4.3 -5.5 C 4.3 -2.6, 5.6 -1.7, 7.8 -1.7 L 10.3 -1.7" fill="none" stroke="#214a66" stroke-width="3.4"/><rect x="1084.40" y="415.90" width="10.10" height="3.20" fill="#214a66"/><path transform="translate(1095.7 432.0)" d="M 1.7 -7.6 L 13.6 -7.6 C 13.6 -11.3, 11 -13.65, 7.65 -13.65 C 4.2 -13.65, 1.7 -10.9, 1.7 -7.35 C 1.7 -3.7, 4.2 -1.05, 7.65 -1.05 C 9.8 -1.05, 11.6 -1.9, 12.8 -3.2" fill="none" stroke="#214a66" stroke-width="3.4"/><rect x="1114.30" y="411.20" width="3.80" height="20.80" fill="#214a66"/><ellipse cx="1122.60" cy="424.50" rx="5.0" ry="6.05" fill="none" stroke="#214a66" stroke-width="3.4"/><path transform="translate(1133.9 432.0)" d="M 1.7 0 L 1.7 -14.75 M 1.7 -8.5 C 2.4 -11.8, 4.8 -13.05, 7.5 -13.05 L 10.4 -13.05" fill="none" stroke="#214a66" stroke-width="3.4"/><ellipse cx="1153.70" cy="424.50" rx="5.8" ry="6.05" fill="none" stroke="#214a66" stroke-width="3.4"/><rect x="1158.60" y="417.25" width="3.60" height="14.75" fill="#214a66"/>
<rect x="868.10" y="1007.10" width="3.80" height="20.80" fill="#214a66"/><rect x="864.90" y="1007.10" width="7.00" height="2.50" fill="#214a66"/><rect x="864.90" y="1025.30" width="9.50" height="2.60" fill="#214a66"/><path transform="translate(877 1027.9)" d="M 11.3 -12.15 C 10.2 -13.15, 8.5 -13.45, 6.6 -13.45 C 3.7 -13.45, 1.8 -12.15, 1.8 -10.05 C 1.8 -7.75, 4 -7.25, 6.7 -6.65 C 9.7 -6.05, 11.4 -5.25, 11.4 -3.45 C 11.4 -1.65, 9.4 -1.45, 6.6 -1.45 C 4.3 -1.45, 2.3 -2.25, 1.2 -3.25" fill="none" stroke="#214a66" stroke-width="3.4"/><path transform="translate(891.2 1027.9)" d="M 4.3 -18.65 L 4.3 -5.5 C 4.3 -2.6, 5.6 -1.7, 7.8 -1.7 L 10.3 -1.7" fill="none" stroke="#214a66" stroke-width="3.4"/><rect x="891.20" y="1011.80" width="10.10" height="3.20" fill="#214a66"/><rect x="912.00" y="1007.10" width="3.80" height="20.80" fill="#214a66"/><rect x="912.00" y="1024.50" width="14.70" height="3.40" fill="#214a66"/><path transform="translate(930 1027.9)" d="M 1.9 -14.75 L 1.9 -6.6 C 1.9 -3.2, 4.1 -1.7, 7.1 -1.7 C 10.1 -1.7, 12.3 -3.2, 12.3 -6.6" fill="none" stroke="#214a66" stroke-width="3.4"/><rect x="940.50" y="1013.15" width="3.70" height="14.75" fill="#214a66"/><rect x="948.60" y="1013.15" width="3.70" height="14.75" fill="#214a66"/><path transform="translate(948.6 1027.9)" d="M 1.9 -8.4 C 1.9 -11.7, 3.9 -13.05, 6.7 -13.05 C 9.6 -13.05, 11.4 -11.6, 11.4 -8.4 L 11.4 0 M 11.4 -8.4 C 11.4 -11.7, 13.5 -13.05, 16.4 -13.05 C 19.6 -13.05, 22.3 -11.6, 22.3 -8.4 L 22.3 0" fill="none" stroke="#214a66" stroke-width="3.4"/><rect x="975.90" y="1007.10" width="3.80" height="20.80" fill="#214a66"/><ellipse cx="984.20" cy="1020.40" rx="5.0" ry="6.05" fill="none" stroke="#214a66" stroke-width="3.4"/><ellipse cx="1000.40" cy="1020.40" rx="5.8" ry="6.05" fill="none" stroke="#214a66" stroke-width="3.4"/><rect x="1005.30" y="1013.15" width="3.60" height="14.75" fill="#214a66"/><path transform="translate(1013.4 1027.9)" d="M 1.7 0 L 1.7 -14.75 M 1.7 -8.5 C 2.4 -11.8, 4.8 -13.05, 7.5 -13.05 L 10.4 -13.05" fill="none" stroke="#214a66" stroke-width="3.4"/><polygon points="1031.30,1007.10 1035.20,1007.10 1041.85,1023.10 1048.50,1007.10 1052.40,1007.10 1044.20,1027.90 1039.50,1027.90" fill="#214a66"/><path transform="translate(1053.3 1027.9)" d="M 1.7 -7.6 L 13.6 -7.6 C 13.6 -11.3, 11 -13.65, 7.65 -13.65 C 4.2 -13.65, 1.7 -10.9, 1.7 -7.35 C 1.7 -3.7, 4.2 -1.05, 7.65 -1.05 C 9.8 -1.05, 11.6 -1.9, 12.8 -3.2" fill="none" stroke="#214a66" stroke-width="3.4"/><path transform="translate(1072.4 1027.9)" d="M 1.7 0 L 1.7 -14.75 M 1.7 -8.5 C 2.4 -11.8, 4.8 -13.05, 7.5 -13.05 L 10.4 -13.05" fill="none" stroke="#214a66" stroke-width="3.4"/><path transform="translate(1084.4 1027.9)" d="M 4.3 -18.65 L 4.3 -5.5 C 4.3 -2.6, 5.6 -1.7, 7.8 -1.7 L 10.3 -1.7" fill="none" stroke="#214a66" stroke-width="3.4"/><rect x="1084.40" y="1011.80" width="10.10" height="3.20" fill="#214a66"/><path transform="translate(1095.7 1027.9)" d="M 1.7 -7.6 L 13.6 -7.6 C 13.6 -11.3, 11 -13.65, 7.65 -13.65 C 4.2 -13.65, 1.7 -10.9, 1.7 -7.35 C 1.7 -3.7, 4.2 -1.05, 7.65 -1.05 C 9.8 -1.05, 11.6 -1.9, 12.8 -3.2" fill="none" stroke="#214a66" stroke-width="3.4"/><rect x="1114.30" y="1007.10" width="3.80" height="20.80" fill="#214a66"/><ellipse cx="1122.60" cy="1020.40" rx="5.0" ry="6.05" fill="none" stroke="#214a66" stroke-width="3.4"/><path transform="translate(1133.9 1027.9)" d="M 1.7 0 L 1.7 -14.75 M 1.7 -8.5 C 2.4 -11.8, 4.8 -13.05, 7.5 -13.05 L 10.4 -13.05" fill="none" stroke="#214a66" stroke-width="3.4"/><ellipse cx="1153.70" cy="1020.40" rx="5.8" ry="6.05" fill="none" stroke="#214a66" stroke-width="3.4"/><rect x="1158.60" y="1013.15" width="3.60" height="14.75" fill="#214a66"/>
<path d="M 277.7 87.35 A 8.75 9.1 0 1 0 277.7 100.65" fill="none" stroke="#d32a2e" stroke-width="3.6"/>
<rect x="283.7" y="84.15" width="3.60" height="20.55" fill="#d32a2e"/><rect x="280.9" y="84.15" width="6.40" height="2.90" fill="#d32a2e"/><rect x="280.6" y="101.60000000000001" width="10.00" height="3.10" fill="#d32a2e"/>
<path d="M 282.6 136.9 A 8.75 9.1 0 1 0 282.6 150.2" fill="none" stroke="#d32a2e" stroke-width="3.6"/>
<path d="M 286.3 138.6 L 289.9 138.6 C 290.6 136.6, 292.3 134.75, 294.7 134.75 C 298.6 134.75, 301.3 136.7, 301.3 139.6 C 301.3 142.6, 298.6 144.2, 294.8 144.5 C 290.6 144.9, 288.1 146.5, 288.1 149.5 L 288.1 152.1 L 303.2 152.1" fill="none" stroke="#d32a2e" stroke-width="3.6" stroke-linejoin="miter"/>
<rect x="363.5" y="411" width="17.25" height="3.20" fill="#d32a2e"/>
<rect x="370.25" y="411" width="3.75" height="20.75" fill="#d32a2e"/>
<rect x="385.75" y="411" width="3.50" height="20.75" fill="#d32a2e"/><rect x="382.75" y="411" width="6.50" height="2.90" fill="#d32a2e"/><rect x="382.25" y="428.65" width="10.00" height="3.10" fill="#d32a2e"/>
<rect x="365.9" y="1006.4" width="3.80" height="21.30" fill="#d32a2e"/>
<rect x="365.9" y="1023.9" width="14.60" height="3.80" fill="#d32a2e"/>
<rect x="385.5" y="1006.75" width="3.70" height="20.95" fill="#d32a2e"/><rect x="382.2" y="1006.75" width="7.00" height="2.90" fill="#d32a2e"/><rect x="382.2" y="1024.6000000000001" width="10.00" height="3.10" fill="#d32a2e"/>
<path d="M 309.6 82.3 C 305.2 86, 302.9 90, 302.9 94.85 C 302.9 99.7, 305.2 103.7, 309.6 107.4" fill="none" stroke="#474747" stroke-width="1.5" stroke-linecap="butt" stroke-linejoin="miter"/>
<path d="M 312.1 104.3 L 321.6 84.1 L 331.1 104.3 M 314.5 98.5 L 328.4 98.5" fill="none" stroke="#474747" stroke-width="1.5" stroke-linecap="butt" stroke-linejoin="miter"/>
<path d="M 335.7 85.35 L 335.7 100.3 C 335.7 103, 337.2 104.3, 339.5 104.3 L 341.5 104.3 M 332 90.25 L 341.2 90.25" fill="none" stroke="#474747" stroke-width="1.5" stroke-linecap="butt" stroke-linejoin="miter"/>
<path d="M 345.8 83.8 L 345.8 104.3" fill="none" stroke="#474747" stroke-width="1.5" stroke-linecap="butt" stroke-linejoin="miter"/>
<path d="M 364.4 97 C 364.4 101.1, 361.2 104.35, 357.3 104.35 C 353.4 104.35, 350.3 101.1, 350.3 97 C 350.3 92.9, 353.4 89.65, 357.3 89.65 C 361.2 89.65, 364.4 92.9, 364.4 97 Z M 364.4 89.9 L 364.4 104.3" fill="none" stroke="#474747" stroke-width="1.5" stroke-linecap="butt" stroke-linejoin="miter"/>
<path d="M 379.75 91.3 C 378.8 90.1, 376.8 89.6, 374.5 89.6 C 371.5 89.6, 369.4 91, 369.4 93.3 C 369.4 95.8, 371.8 96.4, 374.6 97 C 377.8 97.6, 380.4 98.4, 380.4 100.8 C 380.4 103, 378 104.3, 374.6 104.3 C 372 104.3, 369.9 103.4, 369 101.9" fill="none" stroke="#474747" stroke-width="1.5" stroke-linecap="butt" stroke-linejoin="miter"/>
<path d="M 383.4 82.3 C 387.8 86, 390.3 90, 390.3 94.85 C 390.3 99.7, 387.8 103.7, 383.4 107.4" fill="none" stroke="#474747" stroke-width="1.5" stroke-linecap="butt" stroke-linejoin="miter"/>
<path d="M 322.6 131.3 C 318.3 135, 316.2 139.4, 316.2 144.35 C 316.2 149.3, 318.3 153.7, 322.6 157.4" fill="none" stroke="#474747" stroke-width="1.5" stroke-linecap="butt" stroke-linejoin="miter"/>
<path d="M 325.3 153.6 L 335 133.45 L 344.7 153.6 M 328.5 148 L 341.4 148" fill="none" stroke="#474747" stroke-width="1.5" stroke-linecap="butt" stroke-linejoin="miter"/>
<path d="M 348.2 139.4 L 360 153.6 M 359.7 139.4 L 347.9 153.6" fill="none" stroke="#474747" stroke-width="1.5" stroke-linecap="butt" stroke-linejoin="miter"/>
<path d="M 364 139.4 L 364 153.6" fill="none" stroke="#474747" stroke-width="1.5" stroke-linecap="butt" stroke-linejoin="miter"/>
<circle cx="364" cy="134.3" r="1.1" fill="#474747"/>
<path d="M 379.9 141.6 C 378.9 140.1, 376.7 139.4, 374.3 139.4 C 371.1 139.4, 369 140.9, 369 143.1 C 369 145.5, 371.4 146.1, 374.3 146.6 C 377.7 147.2, 380.6 147.9, 380.6 150.1 C 380.6 152.3, 378.2 153.6, 374.5 153.6 C 371.8 153.6, 369.5 152.7, 368.6 151.2" fill="none" stroke="#474747" stroke-width="1.5" stroke-linecap="butt" stroke-linejoin="miter"/>
<path d="M 383.65 131.3 C 387.9 135, 390.1 139.4, 390.1 144.35 C 390.1 149.3, 387.9 153.7, 383.65 157.4" fill="none" stroke="#474747" stroke-width="1.5" stroke-linecap="butt" stroke-linejoin="miter"/>
<path transform="translate(374.7 176.5) scale(1.0 1.0)" d="M 0.8 4.5 C 1.8 1.8, 4.5 0.75, 8 0.75 C 12.5 0.75, 15.2 2.8, 15.2 5.5 C 15.2 8.5, 12.5 10.25, 9.5 10.25 L 5 10.25 M 9.5 10.25 C 13.5 10.25, 16 12.5, 16 15.5 C 16 18.5, 12.8 20.5, 8 20.5 C 4 20.5, 1.3 18.6, 0.5 15.8" fill="none" stroke="#474747" stroke-width="1.6" stroke-linejoin="round" vector-effect="non-scaling-stroke"/>
<path transform="translate(374.3 223.8) scale(1.0 1.0238095238095237)" d="M 14 20.75 L 14 0.75 L 0.75 15 L 17 15" fill="none" stroke="#474747" stroke-width="1.6" stroke-linejoin="round" vector-effect="non-scaling-stroke"/>
<path transform="translate(375 271.3) scale(1.0 0.9952380952380941)" d="M 15 0.75 L 1 0.75 L 1 8.75 L 8 8.6 C 13 8.5, 16 11.5, 16 15 C 16 18.7, 12.5 20.5, 8 20.5 C 4.5 20.5, 1.5 19.2, 0.4 16.5" fill="none" stroke="#474747" stroke-width="1.6" stroke-linejoin="round" vector-effect="non-scaling-stroke"/>
<path transform="translate(375 318.4) scale(1.0 1.0285714285714296)" d="M 15 5 C 13.5 2.2, 11 0.75, 8 0.75 C 3.5 0.75, 0.75 3.5, 0.75 7.5 L 0.75 15 M 0.75 15 C 0.75 11.7, 4 9, 8 9 C 12 9, 15.25 11.7, 15.25 15 C 15.25 18.3, 12 21, 8 21 C 4 21, 0.75 18.3, 0.75 15 Z" fill="none" stroke="#474747" stroke-width="1.6" stroke-linejoin="round" vector-effect="non-scaling-stroke"/>
<path transform="translate(375.5 366) scale(1.0 1.0476190476190477)" d="M 0.75 1 L 16.25 1 L 3.75 21" fill="none" stroke="#474747" stroke-width="1.6" stroke-linejoin="round" vector-effect="non-scaling-stroke"/>
<path transform="translate(374 463.1) scale(1.0 1.028571428571427)" d="M 0.5 5 C 1.5 2.3, 4.5 0.75, 8.3 0.75 C 12.8 0.75, 16 3.5, 16 7 C 16 11.5, 11 12.5, 6 13.5 C 2.5 14.3, 0.75 16, 0.75 18 L 0.75 20.5 L 15.75 20.5" fill="none" stroke="#474747" stroke-width="1.6" stroke-linejoin="round" vector-effect="non-scaling-stroke"/>
<path transform="translate(374.7 513.4) scale(1.0 1.0)" d="M 0.8 4.5 C 1.8 1.8, 4.5 0.75, 8 0.75 C 12.5 0.75, 15.2 2.8, 15.2 5.5 C 15.2 8.5, 12.5 10.25, 9.5 10.25 L 5 10.25 M 9.5 10.25 C 13.5 10.25, 16 12.5, 16 15.5 C 16 18.5, 12.8 20.5, 8 20.5 C 4 20.5, 1.3 18.6, 0.5 15.8" fill="none" stroke="#474747" stroke-width="1.6" stroke-linejoin="round" vector-effect="non-scaling-stroke"/>
<path transform="translate(374.3 563.4) scale(1.0 1.0095238095238117)" d="M 14 20.75 L 14 0.75 L 0.75 15 L 17 15" fill="none" stroke="#474747" stroke-width="1.6" stroke-linejoin="round" vector-effect="non-scaling-stroke"/>
<path transform="translate(375 613.2) scale(1.0 1.0)" d="M 15 0.75 L 1 0.75 L 1 8.75 L 8 8.6 C 13 8.5, 16 11.5, 16 15 C 16 18.7, 12.5 20.5, 8 20.5 C 4.5 20.5, 1.5 19.2, 0.4 16.5" fill="none" stroke="#474747" stroke-width="1.6" stroke-linejoin="round" vector-effect="non-scaling-stroke"/>
<path transform="translate(375 663) scale(1.0 1.0190476190476179)" d="M 15 5 C 13.5 2.2, 11 0.75, 8 0.75 C 3.5 0.75, 0.75 3.5, 0.75 7.5 L 0.75 15 M 0.75 15 C 0.75 11.7, 4 9, 8 9 C 12 9, 15.25 11.7, 15.25 15 C 15.25 18.3, 12 21, 8 21 C 4 21, 0.75 18.3, 0.75 15 Z" fill="none" stroke="#474747" stroke-width="1.6" stroke-linejoin="round" vector-effect="non-scaling-stroke"/>
<path transform="translate(375.5 712.6) scale(1.0 1.0190476190476179)" d="M 0.75 1 L 16.25 1 L 3.75 21" fill="none" stroke="#474747" stroke-width="1.6" stroke-linejoin="round" vector-effect="non-scaling-stroke"/>
<path transform="translate(373.8 762.4) scale(1.0 1.0285714285714296)" d="M 8.65 0.75 C 12.7 0.75, 16 2.7, 16 5.05 C 16 7.4, 12.7 9.35, 8.65 9.35 C 4.6 9.35, 1.3 7.4, 1.3 5.05 C 1.3 2.7, 4.6 0.75, 8.65 0.75 Z M 8.5 11.65 C 12.8 11.65, 16.25 13.7, 16.25 16.25 C 16.25 18.8, 12.8 20.85, 8.5 20.85 C 4.2 20.85, 0.75 18.8, 0.75 16.25 C 0.75 13.7, 4.2 11.65, 8.5 11.65 Z" fill="none" stroke="#474747" stroke-width="1.6" stroke-linejoin="round" vector-effect="non-scaling-stroke"/>
<path transform="translate(374 812.1) scale(1.0 1.03333333333333)" d="M 8.3 0.75 C 12.4 0.75, 15.8 3.1, 15.8 6.1 C 15.8 9.1, 12.4 11.45, 8.3 11.45 C 4.2 11.45, 0.8 9.1, 0.8 6.1 C 0.8 3.1, 4.2 0.75, 8.3 0.75 Z M 15.8 6 L 15.8 15 C 15.8 19, 12.5 21.25, 8.3 21.25 C 5 21.25, 2.3 19.8, 1.1 17" fill="none" stroke="#474747" stroke-width="1.6" stroke-linejoin="round" vector-effect="non-scaling-stroke"/>
<path transform="translate(374 1069.1) scale(1.0 1.0095238095238117)" d="M 0.5 5 C 1.5 2.3, 4.5 0.75, 8.3 0.75 C 12.8 0.75, 16 3.5, 16 7 C 16 11.5, 11 12.5, 6 13.5 C 2.5 14.3, 0.75 16, 0.75 18 L 0.75 20.5 L 15.75 20.5" fill="none" stroke="#474747" stroke-width="1.6" stroke-linejoin="round" vector-effect="non-scaling-stroke"/>
<path transform="translate(374.7 1132.5) scale(1.0 1.0238095238095237)" d="M 0.8 4.5 C 1.8 1.8, 4.5 0.75, 8 0.75 C 12.5 0.75, 15.2 2.8, 15.2 5.5 C 15.2 8.5, 12.5 10.25, 9.5 10.25 L 5 10.25 M 9.5 10.25 C 13.5 10.25, 16 12.5, 16 15.5 C 16 18.5, 12.8 20.5, 8 20.5 C 4 20.5, 1.3 18.6, 0.5 15.8" fill="none" stroke="#474747" stroke-width="1.6" stroke-linejoin="round" vector-effect="non-scaling-stroke"/>
<path transform="translate(374.3 1198.5) scale(1.0 1.038095238095236)" d="M 14 20.75 L 14 0.75 L 0.75 15 L 17 15" fill="none" stroke="#474747" stroke-width="1.6" stroke-linejoin="round" vector-effect="non-scaling-stroke"/>
<path transform="translate(375 1261) scale(1.0 1.0047619047619005)" d="M 15 0.75 L 1 0.75 L 1 8.75 L 8 8.6 C 13 8.5, 16 11.5, 16 15 C 16 18.7, 12.5 20.5, 8 20.5 C 4.5 20.5, 1.5 19.2, 0.4 16.5" fill="none" stroke="#474747" stroke-width="1.6" stroke-linejoin="round" vector-effect="non-scaling-stroke"/>
<path transform="translate(363.9 862.6) scale(1.0 1.0190476190476179)" d="M 0 0.75 L 4.2 0.75 L 4.2 20.25 M 0 20.25 L 8.8 20.25" fill="none" stroke="#474747" stroke-width="1.6" stroke-linejoin="round" vector-effect="non-scaling-stroke"/>
<path transform="translate(375.25 862.6) scale(1.0 1.0190476190476179)" d="M 8 0.75 C 12 0.75, 15.25 3.5, 15.25 7.5 L 15.25 13.5 C 15.25 17.5, 12 20.25, 8 20.25 C 4 20.25, 0.75 17.5, 0.75 13.5 L 0.75 7.5 C 0.75 3.5, 4 0.75, 8 0.75 Z" fill="none" stroke="#474747" stroke-width="1.6" stroke-linejoin="round" vector-effect="non-scaling-stroke"/>
<path transform="translate(373.1 912.6) scale(1.0 1.0095238095238064)" d="M 0 0.75 L 4.2 0.75 L 4.2 20.25 M 0 20.25 L 8.8 20.25" fill="none" stroke="#474747" stroke-width="1.6" stroke-linejoin="round" vector-effect="non-scaling-stroke"/>
<path transform="translate(383.3 912.6) scale(1.0 1.0095238095238064)" d="M 0 0.75 L 4.2 0.75 L 4.2 20.25 M 0 20.25 L 8.8 20.25" fill="none" stroke="#474747" stroke-width="1.6" stroke-linejoin="round" vector-effect="non-scaling-stroke"/>
<path transform="translate(363.2 962.3) scale(1.0 1.0238095238095237)" d="M 0 0.75 L 4.2 0.75 L 4.2 20.25 M 0 20.25 L 8.8 20.25" fill="none" stroke="#474747" stroke-width="1.6" stroke-linejoin="round" vector-effect="non-scaling-stroke"/>
<path transform="translate(374.6 962.3) scale(1.0 1.0238095238095237)" d="M 0.5 5 C 1.5 2.3, 4.5 0.75, 8.3 0.75 C 12.8 0.75, 16 3.5, 16 7 C 16 11.5, 11 12.5, 6 13.5 C 2.5 14.3, 0.75 16, 0.75 18 L 0.75 20.5 L 15.75 20.5" fill="none" stroke="#474747" stroke-width="1.6" stroke-linejoin="round" vector-effect="non-scaling-stroke"/>
<path d="M 477.0 106.2 C 476.9 107.9 476.6 112.8 476.3 116.0 C 476.1 119.3 475.8 122.5 475.5 125.8 C 475.2 129.0 474.9 132.2 474.5 135.5 C 474.2 138.7 473.8 142.0 473.4 145.2 C 473.0 148.4 472.7 151.7 472.3 154.9 C 471.9 158.1 471.5 161.4 471.1 164.6 C 470.7 167.8 470.3 171.1 469.9 174.3 C 469.5 177.5 469.1 180.8 468.8 184.0 C 468.4 187.2 468.0 190.5 467.7 193.7 C 467.4 196.9 467.1 200.2 466.8 203.4 C 466.6 206.7 466.3 209.9 466.1 213.2 C 465.9 216.4 465.7 219.7 465.6 222.9 C 465.4 226.2 465.4 229.4 465.3 232.7 C 465.3 236.0 465.3 239.2 465.3 242.5 C 465.4 245.8 465.5 249.0 465.7 252.3 C 465.8 255.6 466.0 258.9 466.3 262.1 C 466.5 265.4 466.8 268.6 467.2 271.9 C 467.6 275.1 468.0 278.4 468.4 281.6 C 468.9 284.8 469.4 288.1 470.0 291.3 C 470.6 294.5 471.2 297.7 471.9 300.9 C 472.6 304.0 473.3 307.2 474.1 310.3 C 474.9 313.5 475.8 316.6 476.7 319.7 C 477.7 322.8 478.6 325.9 479.7 329.0 C 480.7 332.0 481.8 335.1 483.0 338.1 C 484.1 341.1 485.3 344.1 486.5 347.1 C 487.8 350.1 489.0 353.1 490.4 356.1 C 491.7 359.0 493.0 362.0 494.4 364.9 C 495.8 367.8 497.2 370.8 498.7 373.7 C 500.1 376.6 501.6 379.5 503.1 382.4 C 504.5 385.3 506.0 388.2 507.6 391.1 C 509.1 394.0 510.6 396.9 512.1 399.8 C 513.7 402.7 515.2 405.6 516.8 408.4 C 518.3 411.3 519.9 414.2 521.4 417.1 C 522.9 420.0 524.5 422.9 526.0 425.8 C 527.5 428.7 529.0 431.6 530.5 434.5 C 532.0 437.5 533.5 440.4 534.9 443.3 C 536.4 446.3 537.8 449.2 539.2 452.2 C 540.6 455.1 542.0 458.1 543.3 461.1 C 544.6 464.1 546.0 467.0 547.2 470.1 C 548.5 473.1 549.8 476.1 551.0 479.1 C 552.2 482.1 553.4 485.2 554.6 488.2 C 555.7 491.3 556.9 494.3 558.0 497.4 C 559.1 500.5 560.1 503.5 561.2 506.6 C 562.2 509.7 563.2 512.8 564.1 515.9 C 565.1 519.0 566.0 522.1 566.9 525.3 C 567.8 528.4 568.7 531.5 569.5 534.7 C 570.4 537.8 571.1 541.0 571.9 544.1 C 572.7 547.3 573.4 550.4 574.1 553.6 C 574.7 556.8 575.4 560.0 576.0 563.2 C 576.6 566.4 577.2 569.6 577.7 572.8 C 578.3 576.0 578.8 579.2 579.3 582.4 C 579.7 585.6 580.2 588.8 580.6 592.0 C 581.0 595.3 581.4 598.5 581.8 601.7 C 582.1 605.0 582.5 608.2 582.8 611.5 C 583.1 614.7 583.4 617.9 583.6 621.2 C 583.9 624.4 584.1 627.7 584.3 630.9 C 584.5 634.2 584.7 637.5 584.8 640.7 C 585.0 644.0 585.1 647.2 585.2 650.5 C 585.3 653.8 585.4 657.0 585.5 660.3 C 585.6 663.5 585.6 666.8 585.6 670.1 C 585.7 673.3 585.7 676.6 585.7 679.8 C 585.7 683.1 585.6 686.4 585.6 689.6 C 585.5 692.9 585.5 696.1 585.4 699.4 C 585.3 702.7 585.2 705.9 585.1 709.2 C 585.0 712.4 584.8 715.7 584.7 718.9 C 584.5 722.2 584.3 725.4 584.1 728.7 C 583.9 731.9 583.7 735.2 583.5 738.4 C 583.3 741.7 583.0 744.9 582.7 748.2 C 582.5 751.4 582.2 754.7 581.9 757.9 C 581.6 761.2 581.2 764.4 580.9 767.6 C 580.6 770.9 580.2 774.1 579.8 777.4 C 579.5 780.6 579.1 783.8 578.7 787.1 C 578.2 790.3 577.8 793.5 577.4 796.8 C 576.9 800.0 576.5 803.2 576.0 806.4 C 575.5 809.7 575.0 812.9 574.5 816.1 C 574.0 819.3 573.4 822.5 572.9 825.7 C 572.3 829.0 571.7 832.2 571.2 835.4 C 570.6 838.6 569.9 841.8 569.3 845.0 C 568.7 848.2 568.0 851.4 567.4 854.5 C 566.7 857.7 566.0 860.9 565.3 864.1 C 564.6 867.3 563.9 870.5 563.1 873.6 C 562.4 876.8 561.6 880.0 560.8 883.1 C 560.0 886.3 559.2 889.4 558.4 892.6 C 557.5 895.7 556.7 898.9 555.8 902.0 C 554.9 905.1 554.0 908.3 553.1 911.4 C 552.2 914.5 551.2 917.6 550.3 920.7 C 549.3 923.8 548.3 926.9 547.3 930.0 C 546.3 933.1 545.3 936.2 544.2 939.3 C 543.2 942.4 542.1 945.4 541.0 948.5 C 539.9 951.5 538.8 954.6 537.6 957.6 C 536.5 960.7 535.3 963.7 534.1 966.8 C 532.9 969.8 531.7 972.8 530.5 975.8 C 529.3 978.9 528.1 981.9 526.8 984.9 C 525.6 987.9 524.3 990.9 523.1 993.9 C 521.8 996.9 520.6 999.9 519.3 1002.9 C 518.0 1005.9 516.8 1008.9 515.5 1012.0 C 514.2 1015.0 513.0 1018.0 511.7 1021.0 C 510.4 1024.0 509.2 1027.0 507.9 1030.0 C 506.7 1033.0 505.4 1036.0 504.2 1039.1 C 502.9 1042.1 501.7 1045.1 500.5 1048.2 C 499.3 1051.2 498.1 1054.2 496.9 1057.3 C 495.7 1060.3 494.6 1063.4 493.4 1066.4 C 492.3 1069.5 491.2 1072.6 490.1 1075.7 C 489.1 1078.7 488.0 1081.8 487.0 1084.9 C 486.0 1088.0 485.0 1091.1 484.1 1094.2 C 483.2 1097.3 482.3 1100.5 481.5 1103.6 C 480.7 1106.7 479.9 1109.9 479.1 1113.1 C 478.4 1116.2 477.7 1119.4 477.1 1122.6 C 476.5 1125.8 476.0 1129.0 475.5 1132.2 C 475.0 1135.4 474.6 1138.6 474.2 1141.8 C 473.8 1145.1 473.5 1148.3 473.2 1151.6 C 472.9 1154.8 472.6 1158.1 472.3 1161.3 C 472.1 1164.6 471.8 1167.8 471.6 1171.1 C 471.3 1174.4 471.0 1177.6 470.7 1180.9 C 470.5 1184.2 470.2 1187.4 469.9 1190.7 C 469.6 1194.0 469.4 1197.2 469.1 1200.5 C 468.9 1203.7 468.7 1207.0 468.5 1210.3 C 468.4 1213.5 468.2 1216.8 468.1 1220.0 C 468.1 1223.2 468.0 1226.5 468.1 1229.7 C 468.1 1233.0 468.3 1236.2 468.5 1239.4 C 468.7 1242.6 468.9 1245.8 469.3 1249.1 C 469.7 1252.3 470.2 1255.5 470.8 1258.7 C 471.3 1261.9 472.0 1265.0 472.7 1268.2 C 473.3 1271.4 474.1 1274.6 474.9 1277.8 C 475.6 1281.0 476.4 1284.2 477.2 1287.4 C 478.0 1290.6 478.8 1293.8 479.6 1297.0 C 480.4 1300.1 481.1 1303.3 482.0 1306.5 C 482.9 1309.6 483.9 1312.7 484.9 1315.8 C 486.0 1318.9 487.1 1321.9 488.4 1324.8 C 489.6 1327.8 491.0 1330.7 492.4 1333.6 C 493.8 1336.5 495.3 1339.3 496.8 1342.2 C 498.4 1345.0 500.0 1347.8 501.6 1350.6 C 503.3 1353.5 505.0 1356.3 506.7 1359.0 C 508.4 1361.8 510.2 1364.6 512.0 1367.4 C 513.8 1370.1 515.6 1372.9 517.5 1375.5 C 519.4 1378.2 521.3 1380.9 523.3 1383.5 C 525.3 1386.1 527.4 1388.7 529.5 1391.2 C 531.6 1393.7 533.7 1396.1 536.0 1398.5 C 538.2 1400.9 540.5 1403.2 542.8 1405.5 C 545.2 1407.7 547.6 1409.9 550.1 1411.9 C 552.6 1414.0 555.1 1416.0 557.8 1417.9 C 560.4 1419.7 563.1 1421.5 565.8 1423.3 C 568.5 1425.1 571.3 1426.8 574.0 1428.5 C 576.7 1430.3 579.5 1432.0 582.2 1433.7 C 585.0 1435.5 587.7 1437.3 590.4 1439.1 C 593.0 1441.0 595.6 1442.9 598.2 1445.0 C 600.7 1447.1 603.2 1449.2 605.5 1451.5 C 607.8 1453.9 610.1 1456.3 612.2 1459.0 C 614.3 1461.6 616.3 1464.4 618.0 1467.3 C 619.7 1470.2 621.2 1473.3 622.4 1476.3 C 623.6 1479.4 624.5 1482.5 625.0 1485.6 C 625.5 1488.8 625.6 1491.9 625.3 1495.0 C 624.9 1498.0 624.0 1501.1 622.8 1503.9 C 621.5 1506.8 619.8 1509.6 617.8 1512.2 C 615.8 1514.8 613.3 1517.2 610.7 1519.3 C 608.1 1521.5 605.2 1523.4 602.2 1525.1 C 599.2 1526.8 596.0 1528.2 592.8 1529.3 C 589.7 1530.5 586.3 1531.4 583.2 1532.0 C 580.1 1532.6 575.5 1532.8 574.0 1533.0 " fill="none" stroke="#d64246" stroke-width="8" stroke-linecap="round" stroke-linejoin="round"/>
<path d="M 992 674 C 982 660, 965 653.5, 943 653.5 C 912 653.5, 892.5 666, 892.5 688 C 892.5 712, 915 718, 943 724 C 975 731, 994.5 738, 994.5 757 C 994.5 780, 972 792.5, 943 792.5 C 918 792.5, 898 783, 889 766" fill="none" stroke="#9fd5d1" stroke-width="11"/>
<path d="M 1030.5 795.5 L 1030.5 655 L 1090 655 C 1115 655, 1130.5 675, 1130.5 697.5 C 1130.5 720, 1115 740, 1090 740 L 1030.5 740" fill="none" stroke="#9fd5d1" stroke-width="11" stroke-linejoin="miter"/>
<rect x="1161.5" y="649.8" width="10.8" height="145.7" fill="#9fd5d1"/>
<polygon points="1205,795.5 1205,649.8 1212,649.8 1308,770 1308,649.8 1319,649.8 1319,795.5 1313,795.5 1215.7,676 1215.7,795.5" fill="#9fd5d1"/>
<polygon points="1351,795.5 1351,649.8 1452,649.8 1452,660 1362.6,660 1362.6,717.6 1448,717.6 1448,727.3 1362.6,727.3 1362.6,785.5 1455,785.5 1455,795.5" fill="#9fd5d1"/>
</svg></body></html>
